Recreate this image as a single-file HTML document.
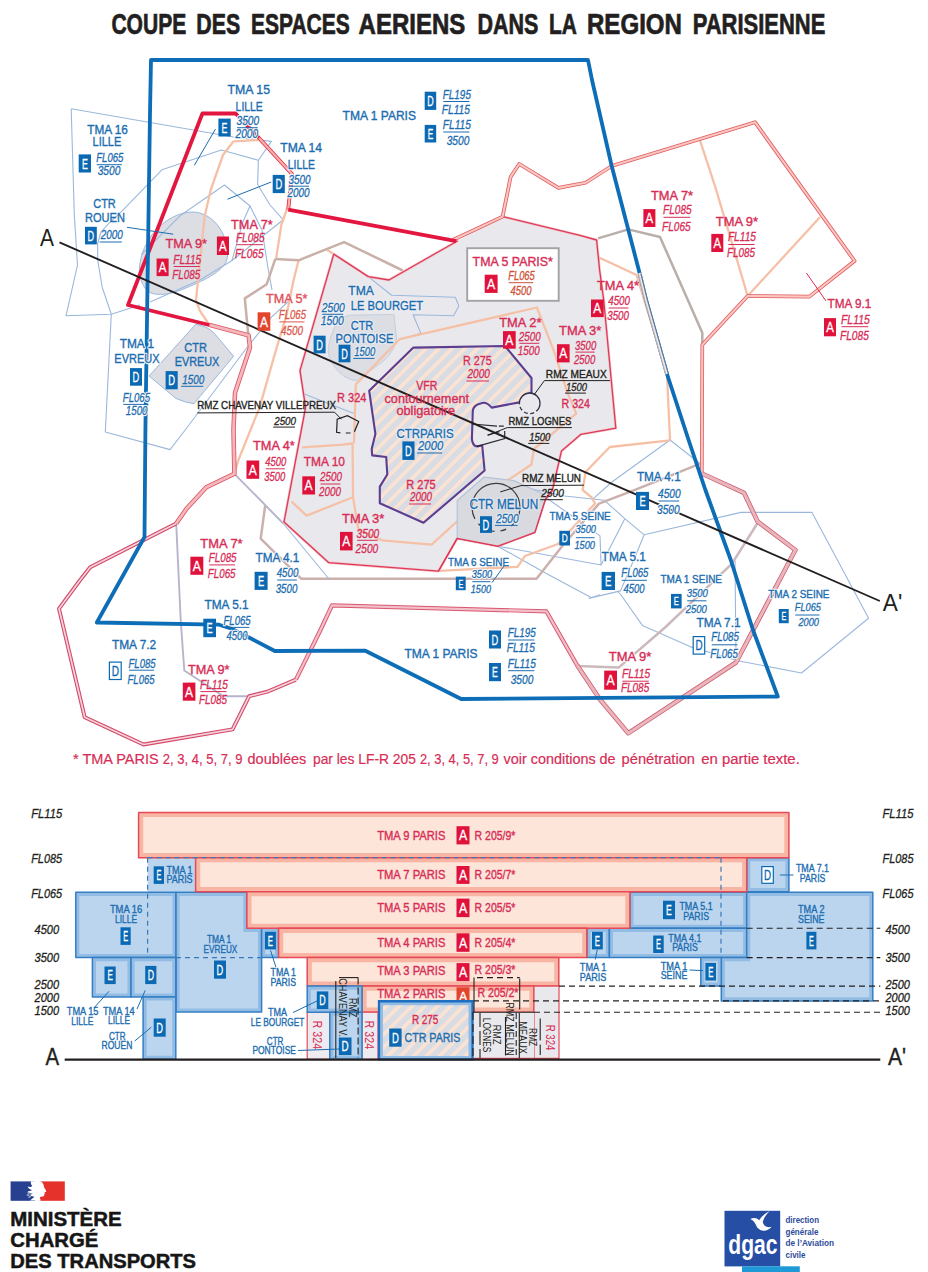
<!DOCTYPE html>
<html lang="fr"><head><meta charset="utf-8"><title>Coupe des espaces aeriens dans la region parisienne</title>
<style>
html,body{margin:0;padding:0;background:#fff}
body{width:928px;height:1272px;overflow:hidden}
svg{display:block}
svg text{font-family:"Liberation Sans",sans-serif;white-space:pre}
</style></head><body>
<svg width="928" height="1272" viewBox="0 0 928 1272">
<defs>
<pattern id="hatch" width="9.1" height="9.1" patternUnits="userSpaceOnUse" patternTransform="rotate(-45)">
<rect width="9.1" height="9.1" fill="#d9dce2"/><rect y="0" width="9.1" height="3.6" fill="#fbe3d4"/>
</pattern>
</defs>
<text y="33.7" fill="#231f20" stroke="#231f20" stroke-width="0.7" style="font-size:28.8px;font-weight:bold;"><tspan x="111.4" textLength="74.9" lengthAdjust="spacingAndGlyphs">COUPE</tspan> <tspan x="196.3" textLength="43.9" lengthAdjust="spacingAndGlyphs">DES</tspan> <tspan x="250.9" textLength="98.9" lengthAdjust="spacingAndGlyphs">ESPACES</tspan> <tspan x="358.6" textLength="106.8" lengthAdjust="spacingAndGlyphs">AERIENS</tspan> <tspan x="477.4" textLength="61" lengthAdjust="spacingAndGlyphs">DANS</tspan> <tspan x="549.1" textLength="27.1" lengthAdjust="spacingAndGlyphs">LA</tspan> <tspan x="587" textLength="94.9" lengthAdjust="spacingAndGlyphs">REGION</tspan> <tspan x="692.7" textLength="132.7" lengthAdjust="spacingAndGlyphs">PARISIENNE</tspan></text>
<polygon points="333.8,254.1 368.3,276.6 389,280 432.8,255 457.9,240.8 502.6,216.6 580,235.4 596.6,240 599.6,270 603.7,300 615.8,428.2 581,434.3 561.5,450.9 552.4,490 545.2,499.7 534.8,532.4 497.8,546.2 457.2,538.4 438.4,571.2 328.6,562.6 284,522 305.6,407.4 300,370.6" fill="#e9e9ed" stroke="none" stroke-width="0" stroke-linejoin="round" />
<path d="M139.5,268 C141,240 165,213 192,212 C212,212 228,232 227.5,256 C227,270 205,280 186,288 C168,296 150,297 145,288 C141,282 139,276 139.5,268Z" fill="#dcdee3" stroke="#9bb8dc" stroke-width="1"/>
<path d="M149.1,376 L195.7,324.3 Q207,326 214,333 L233.6,356.2 L194,403.6 Q186,403 175.9,398.4 Z" fill="#dcdee3" stroke="#9bb8dc" stroke-width="1"/>
<path d="M333.6,329.5 Q338,317 350,315.2 L394,314.5 L396.6,339.8 Q392,357 375.9,366.6 Q366,374 356,381 Q342,378 334.5,366.6 Q327,356 328.4,347.6 Q329.5,338 333.6,329.5 Z" fill="#dcdee3" stroke="#c3cede" stroke-width="1"/>
<path d="M413.4,347.6 L505,346 L531.5,378 L531.5,393 L526,394.5 L519.3,402.4 L491.7,407.6 Q486,401.3 481.4,403.3 Q473.3,405 472.8,411 L471.9,438.6 Q472.3,445.8 477,446.4 L482.2,445.5 L484.6,470.5 L423.5,522.8 L379.8,503.2 L379.8,486.6 L387.3,474.5 L386.2,457 L372.2,455.4 L371.7,449 L375.4,433.9 L369.2,390.8 Z" fill="url(#hatch)"/>
<polyline points="71.2,108.7 233.4,137 271.4,141.4 258.4,160.3 257.6,184.5 270,205 283.3,219.8 232,260.5" fill="none" stroke="#9bb8dc" stroke-width="1.1" stroke-linejoin="round" />
<polyline points="71.2,108.7 74.3,215 77.5,265 66,315.8 111.3,314.3 140,305" fill="none" stroke="#9bb8dc" stroke-width="1.1" stroke-linejoin="round" />
<polyline points="111.3,314.3 102.2,287.2 97.7,260 97.6,243.5 101,232 109.3,222.8 121.7,211.4 161.9,169.8 221.4,150 258.4,160.3" fill="none" stroke="#9bb8dc" stroke-width="1.1" stroke-linejoin="round" />
<polyline points="141.5,254.5 180.7,215.2 224.5,185 250,206 242.6,222.8 232,260.5 200,280 150,302" fill="none" stroke="#9bb8dc" stroke-width="1.1" stroke-linejoin="round" />
<polyline points="250,206 262,230 268,268 272,290" fill="none" stroke="#9bb8dc" stroke-width="1.1" stroke-linejoin="round" />
<polyline points="111.3,314.3 105.3,432 170.1,449.6 185.2,430 247,347.5 271.2,317.3 290,300" fill="none" stroke="#9bb8dc" stroke-width="1.1" stroke-linejoin="round" />
<polyline points="368.3,276.6 391.6,295.2 455.3,297.2 458.8,305.9 453.6,315.7 413.1,314.7 420.9,333.4 400,339.5" fill="none" stroke="#9bb8dc" stroke-width="1.1" stroke-linejoin="round" />
<polyline points="304.3,394 353.9,413.4" fill="none" stroke="#9bb8dc" stroke-width="1.1" stroke-linejoin="round" />
<polyline points="670,440 700.3,463.7" fill="none" stroke="#9bb8dc" stroke-width="1.1" stroke-linejoin="round" />
<polyline points="670,440 611.9,482 592.5,499.3" fill="none" stroke="#9bb8dc" stroke-width="1.1" stroke-linejoin="round" />
<polyline points="514.1,480.7 530,488.5 564.5,496 604.4,500.3 624.8,518.7 644.2,534.8 741,512.4 812,512.4 868.6,618.3 801.5,673 737.9,660.7 690,646.6 642.4,625.4 621,595 617.3,590.9" fill="none" stroke="#9bb8dc" stroke-width="1.1" stroke-linejoin="round" />
<polyline points="644.2,534.8 633.4,560.7 620.5,590.9 588.7,598.4" fill="none" stroke="#9bb8dc" stroke-width="1.1" stroke-linejoin="round" />
<polyline points="624.8,518.7 601.1,565 530,552 497.8,546.2" fill="none" stroke="#9bb8dc" stroke-width="1.1" stroke-linejoin="round" />
<polyline points="735,560.7 736,660" fill="none" stroke="#9bb8dc" stroke-width="1.1" stroke-linejoin="round" />
<polyline points="497.8,546.2 546.3,573.6 591.6,597.7 600,594.7" fill="none" stroke="#9bb8dc" stroke-width="1.1" stroke-linejoin="round" />
<polyline points="545.2,497 600,535.9 601.1,565" fill="none" stroke="#9bb8dc" stroke-width="1.1" stroke-linejoin="round" />
<polyline points="233.5,141.3 260.7,139.8" fill="none" stroke="#f6c0a7" stroke-width="2.3" stroke-linejoin="round" />
<polyline points="233.5,141.3 223,155 210.7,190 204.7,215.9 201.2,250.3 196,300 200,311 209.4,325" fill="none" stroke="#f6c0a7" stroke-width="2.3" stroke-linejoin="round" />
<polyline points="287,209 281.4,224.5 276.2,258.1" fill="none" stroke="#f6c0a7" stroke-width="2.3" stroke-linejoin="round" />
<polyline points="298.6,260.3 293.6,280 286.5,315.4 276.6,347.9 259.6,407.4 238.4,460 234.4,473.8" fill="none" stroke="#f6c0a7" stroke-width="2.3" stroke-linejoin="round" />
<polyline points="326.9,249.8 333.8,254.1" fill="none" stroke="#f6c0a7" stroke-width="2.3" stroke-linejoin="round" />
<polyline points="700,140.4 715.8,188.6 740,270 747.6,296" fill="none" stroke="#f6c0a7" stroke-width="2.3" stroke-linejoin="round" />
<polyline points="819.9,217.3 747.6,296" fill="none" stroke="#f6c0a7" stroke-width="2.3" stroke-linejoin="round" />
<polyline points="354,443 355.8,384.5 399.6,339.2 536.9,307.5 553.5,349.8 567.6,392.9 576.2,413.6 534,449 531.4,464.5 505.5,481.7 457.5,521" fill="none" stroke="#f6c0a7" stroke-width="2.3" stroke-linejoin="round" />
<polyline points="302,447.3 340,444.9 352.6,443.5 353,497 358.4,529.6 382,540.3 431.6,544.7 457.5,521" fill="none" stroke="#f6c0a7" stroke-width="2.3" stroke-linejoin="round" />
<polyline points="291.6,501.6 306.6,515.6 353,497.2" fill="none" stroke="#f6c0a7" stroke-width="2.3" stroke-linejoin="round" />
<polyline points="599,257.5 636.5,275 667,374 670,440.3" fill="none" stroke="#f6c0a7" stroke-width="2.3" stroke-linejoin="round" />
<polyline points="670,440.3 609.8,447 585.6,472 582.6,490 591.7,497.3 595,503.5 558,544 525,556 517.5,566.9 438.8,570.8" fill="none" stroke="#f6c0a7" stroke-width="2.3" stroke-linejoin="round" />
<polyline points="598,238.4 628.3,229.4 660,237 702.3,332.8 702.3,344.8" fill="none" stroke="#b9aeaa" stroke-width="2.5" stroke-linejoin="round" />
<polyline points="700.3,463.7 635.6,489.6 599,503.6 562.3,546 536.5,578.8 301.4,578.8 260.7,538.6 265.2,505.4" fill="none" stroke="#cbb0ae" stroke-width="2.5" stroke-linejoin="round" />
<polyline points="757.6,523 732,563.7 665.6,627 618.6,667.6 577.2,665.9" fill="none" stroke="#ccb9bc" stroke-width="2.5" stroke-linejoin="round" />
<polyline points="275.3,259 298.6,260.3 344.1,242.1 402.8,270.5" fill="none" stroke="#c9b0a8" stroke-width="2.5" stroke-linejoin="round" />
<polyline points="275.3,259 266.7,284.2 244.8,298.4 248.3,335" fill="none" stroke="#c9b0a8" stroke-width="2.5" stroke-linejoin="round" />
<polyline points="283.3,523.5 328.6,578.5" fill="none" stroke="#9bb8dc" stroke-width="1.1" stroke-linejoin="round" />
<polyline points="176.2,523.5 180.7,620 184.3,670.5 223.5,696.2 249.2,696.2" fill="none" stroke="#b8b4cd" stroke-width="1.9" stroke-linejoin="round" />
<polyline points="234.4,473.8 283.3,523.5" fill="none" stroke="#b8b4cd" stroke-width="1.9" stroke-linejoin="round" />
<polyline points="502.6,216.6 580,235.4 596.6,240 599.6,270 603.7,300 615.8,428.2 581,434.3 561.5,450.9 552.4,490 545.2,499.7 534.8,532.4 497.8,546.2 457.2,538.4 438.4,571.2 328.6,562.6 284,522 305.6,407.4 300,370.6 333.8,254.1 368.3,276.6 389,280 432.8,255 457.9,240.8" fill="none" stroke="#f4c3ca" stroke-width="2.6" stroke-linejoin="round" />
<polyline points="502.6,216.6 580,235.4 596.6,240 599.6,270 603.7,300 615.8,428.2 581,434.3 561.5,450.9 552.4,490 545.2,499.7 534.8,532.4 497.8,546.2 457.2,538.4 438.4,571.2 328.6,562.6 284,522 305.6,407.4 300,370.6 333.8,254.1 368.3,276.6 389,280 432.8,255 457.9,240.8" fill="none" stroke="#dd3a58" stroke-width="1.3" stroke-linejoin="round" />
<polygon points="484,477.2 514.1,480.7 545.2,495 545.2,499.7 534.8,532.4 497.8,546.2 457.2,538.4 457.2,500.5" fill="#d8dadf" stroke="none" stroke-width="0" stroke-linejoin="round" />
<polyline points="457.2,538.4 457.2,500.5 484,477.2 514.1,480.7 545.2,495" fill="none" stroke="#b4c3da" stroke-width="1.2" stroke-linejoin="round" />
<polyline points="552.4,490 545.2,499.7 534.8,532.4 497.8,546.2 457.2,538.4 438.4,571.2" fill="none" stroke="#dd3a58" stroke-width="1.3" stroke-linejoin="round" />
<polyline points="452.8,240 502.6,216.6 510.7,176.7 519.2,164 558.4,187.9 585.5,182.8 611.7,166 755,122.2 854.6,261 809.4,296.6 747.6,296 702.3,344.8 701.8,473.5" fill="none" stroke="#e05a63" stroke-width="3.7" stroke-linejoin="round" />
<polyline points="452.8,240 502.6,216.6 510.7,176.7 519.2,164 558.4,187.9 585.5,182.8 611.7,166 755,122.2 854.6,261 809.4,296.6 747.6,296 702.3,344.8 701.8,473.5" fill="none" stroke="#fac6bd" stroke-width="2.1" stroke-linejoin="round" />
<polyline points="701.8,473.5 744,492.8 757.6,521.5 795.4,550 736,662.5 628.3,733.2 600,699.6 577,665" fill="none" stroke="#cf5a70" stroke-width="4.6" stroke-linejoin="round" />
<polyline points="701.8,473.5 744,492.8 757.6,521.5 795.4,550 736,662.5 628.3,733.2 600,699.6 577,665" fill="none" stroke="#e8b6bb" stroke-width="3.1" stroke-linejoin="round" />
<polyline points="577,665 546.3,611.3 332,605.3 320,631 295.9,679.6" fill="none" stroke="#d9566f" stroke-width="4.2" stroke-linejoin="round" />
<polyline points="577,665 546.3,611.3 332,605.3 320,631 295.9,679.6" fill="none" stroke="#f2bfc8" stroke-width="2.3" stroke-linejoin="round" />
<polyline points="295.9,679.6 267.3,691.7 249.2,696.2 232.6,729.4 143.5,744.5 84.7,717.3 59,608.7 80.2,580 90.2,567.3 176.2,523.5" fill="none" stroke="#d4496a" stroke-width="3.9" stroke-linejoin="round" />
<polyline points="295.9,679.6 267.3,691.7 249.2,696.2 232.6,729.4 143.5,744.5 84.7,717.3 59,608.7 80.2,580 90.2,567.3 176.2,523.5" fill="none" stroke="#f5d3da" stroke-width="1.7" stroke-linejoin="round" />
<polyline points="176.2,523.5 186.7,508.5 206.3,487.3 234.4,473.8 233.5,430 235,392.8 250,347.5 248.6,335.4 209.4,324.9" fill="none" stroke="#db5568" stroke-width="4.5" stroke-linejoin="round" />
<polyline points="176.2,523.5 186.7,508.5 206.3,487.3 234.4,473.8 233.5,430 235,392.8 250,347.5 248.6,335.4 209.4,324.9" fill="none" stroke="#f4b8ba" stroke-width="2.8" stroke-linejoin="round" />
<polyline points="259,138 292,174 288.2,209.6" fill="none" stroke="#e2304f" stroke-width="3.9" stroke-linejoin="round" />
<polyline points="259,138 292,174 288.2,209.6" fill="none" stroke="#f8b0a8" stroke-width="2.2" stroke-linejoin="round" />
<polyline points="259,138 235.6,113.5 202.4,113.5 128,305 209.4,325" fill="none" stroke="#e2163f" stroke-width="3.8" stroke-linejoin="round" stroke-linejoin="miter"/>
<polyline points="288.2,209.6 456.2,241.2" fill="none" stroke="#e2163f" stroke-width="3.8" stroke-linejoin="round" />
<polygon points="151,60 588,60 592,80 611.7,166 638.8,270 646,300 667,374 688.6,440 705.4,490 730.8,560 753,630 777.8,696.5 461.2,699 365.3,650.7 274.8,651 249,637.5 231,628.5 219,624.7 96.8,622.5 144.5,537 145.4,430 150,113" fill="none" stroke="#0d6db6" stroke-width="3.8" stroke-linejoin="round" stroke-linejoin="miter"/>
<polyline points="639.5,273 646,300 667,374" fill="none" stroke="#b9b4b8" stroke-width="3.8" stroke-linejoin="round" />
<polyline points="639.5,273 646,300 667,374" fill="none" stroke="#f3ebe6" stroke-width="1.3" stroke-linejoin="round" />
<polyline points="641,274 647.5,300 668.5,374" fill="none" stroke="#3b6ea5" stroke-width="0.9" stroke-linejoin="round" />
<path d="M413.4,347.6 L505,346 L531.5,378 L531.5,393 L526,394.5 L519.3,402.4 L491.7,407.6 Q486,401.3 481.4,403.3 Q473.3,405 472.8,411 L471.9,438.6 Q472.3,445.8 477,446.4 L482.2,445.5 L484.6,470.5 L423.5,522.8 L379.8,503.2 L379.8,486.6 L387.3,474.5 L386.2,457 L372.2,455.4 L371.7,449 L375.4,433.9 L369.2,390.8 Z" fill="none" stroke="#5c3d8e" stroke-width="2.1" stroke-linejoin="round"/>
<circle cx="529.7" cy="403.3" r="10.3" fill="#e9e9ed" stroke="#2e3148" stroke-width="1.3" stroke-dasharray="9 2.5 4 2.5 4 2.5 4 2.5 60"/>
<circle cx="496" cy="507.4" r="24" fill="none" stroke="#3d3d45" stroke-width="1.2" stroke-dasharray="0 3 6 6 6 6 6 6 6 6 6 6 93.8"/>
<path d="M340.4,432.8 L336.6,432.3 L337.2,419.3 L347.4,415.6 L358.7,421.5 L354.4,431.7 M345.8,433 L350.6,433" fill="none" stroke="#231f20" stroke-width="1.2"/>
<path d="M472,424 L497,426.2 M498.8,426.2 L503.8,426.2 M504.7,431 L504.7,438.6 L477,446.4 M487.4,435.2 L499.5,431.7" fill="none" stroke="#2a2a35" stroke-width="1.2"/>
<line x1="59.5" y1="242.4" x2="879.8" y2="601" stroke="#231f20" stroke-width="1.9"/>
<text x="40" y="245.8" textLength="14" lengthAdjust="spacingAndGlyphs" style="font-size:24px;" fill="#231f20">A</text>
<text x="882.8" y="611.4" textLength="19.4" lengthAdjust="spacingAndGlyphs" style="font-size:24px;" fill="#231f20">A'</text>
<line x1="215.4" y1="129.2" x2="194.3" y2="165.4" stroke="#1c6db0" stroke-width="1"/>
<line x1="271.2" y1="182" x2="227.5" y2="199.2" stroke="#1c6db0" stroke-width="1"/>
<line x1="127" y1="227.3" x2="173.2" y2="234.2" stroke="#1c6db0" stroke-width="1"/>
<line x1="504" y1="566" x2="492" y2="582.6" stroke="#1c6db0" stroke-width="1"/>
<line x1="806.4" y1="273" x2="826" y2="301" stroke="#d72d56" stroke-width="1"/>
<polyline points="533.9,395 544.4,380.6 610,380.6" fill="none" stroke="#231f20" stroke-width="1" stroke-linejoin="round" />
<polyline points="197.3,412.9 334.5,412.2 341.5,419.3" fill="none" stroke="#231f20" stroke-width="1" stroke-linejoin="round" />
<polyline points="488.3,435.2 507.2,427.6 571.9,427.6" fill="none" stroke="#231f20" stroke-width="1" stroke-linejoin="round" />
<polyline points="500.3,491.9 521,485.6 584,485.2" fill="none" stroke="#231f20" stroke-width="1" stroke-linejoin="round" />
<rect x="467.2" y="248.2" width="91.5" height="52.6" fill="#fff" stroke="#a3a3a7" stroke-width="1.9"/>
<text x="227.5" y="94" textLength="42.5" lengthAdjust="spacingAndGlyphs" style="font-size:13.5px;" fill="#1c6db0" stroke="#1c6db0" stroke-width="0.38">TMA 15</text>
<text x="235.6" y="110.5" textLength="27.2" lengthAdjust="spacingAndGlyphs" style="font-size:13.5px;" fill="#1c6db0" stroke="#1c6db0" stroke-width="0.38">LILLE</text>
<rect x="218.4" y="118.6" width="12.3" height="17.9" fill="#0b69b3"/>
<text x="221.6" y="132.6" textLength="5.9" lengthAdjust="spacingAndGlyphs" fill="#fff" stroke="#fff" stroke-width=".3" style="font-size:14px">E</text>
<text x="236.5" y="124.7" textLength="22.7" lengthAdjust="spacingAndGlyphs" style="font-size:12.5px;font-style:italic;" fill="#fff" stroke="#fff" stroke-width="2.4" stroke-linejoin="round">3500</text>
<text x="236.5" y="124.7" textLength="22.7" lengthAdjust="spacingAndGlyphs" style="font-size:12.5px;font-style:italic;" fill="#1c6db0" stroke="#1c6db0" stroke-width="0.3">3500</text>
<text x="235.5" y="138.3" textLength="22.7" lengthAdjust="spacingAndGlyphs" style="font-size:12.5px;font-style:italic;" fill="#fff" stroke="#fff" stroke-width="2.4" stroke-linejoin="round">2000</text>
<text x="235.5" y="138.3" textLength="22.7" lengthAdjust="spacingAndGlyphs" style="font-size:12.5px;font-style:italic;" fill="#1c6db0" stroke="#1c6db0" stroke-width="0.3">2000</text>
<line x1="237" y1="127.7" x2="257.7" y2="127.7" stroke="#1c6db0" stroke-width="1"/>
<text x="87.2" y="133.8" textLength="40.7" lengthAdjust="spacingAndGlyphs" style="font-size:13.5px;" fill="#1c6db0" stroke="#1c6db0" stroke-width="0.38">TMA 16</text>
<text x="92.6" y="146.4" textLength="28.7" lengthAdjust="spacingAndGlyphs" style="font-size:13.5px;" fill="#1c6db0" stroke="#1c6db0" stroke-width="0.38">LILLE</text>
<rect x="78.7" y="154.4" width="12.3" height="18.1" fill="#0b69b3"/>
<text x="81.9" y="168.5" textLength="5.9" lengthAdjust="spacingAndGlyphs" fill="#fff" stroke="#fff" stroke-width=".3" style="font-size:14px">E</text>
<text x="96.2" y="162.4" textLength="27.2" lengthAdjust="spacingAndGlyphs" style="font-size:12.5px;font-style:italic;" fill="#1c6db0" stroke="#1c6db0" stroke-width="0.3">FL065</text>
<text x="97.7" y="175.4" textLength="22.7" lengthAdjust="spacingAndGlyphs" style="font-size:12.5px;font-style:italic;" fill="#1c6db0" stroke="#1c6db0" stroke-width="0.3">3500</text>
<line x1="96.7" y1="164.7" x2="121.9" y2="164.7" stroke="#1c6db0" stroke-width="1"/>
<text x="280.3" y="151.9" textLength="41.7" lengthAdjust="spacingAndGlyphs" style="font-size:13.5px;" fill="#1c6db0" stroke="#1c6db0" stroke-width="0.38">TMA 14</text>
<text x="287.8" y="168.5" textLength="27.2" lengthAdjust="spacingAndGlyphs" style="font-size:13.5px;" fill="#fff" stroke="#fff" stroke-width="2.4" stroke-linejoin="round">LILLE</text>
<text x="287.8" y="168.5" textLength="27.2" lengthAdjust="spacingAndGlyphs" style="font-size:13.5px;" fill="#1c6db0" stroke="#1c6db0" stroke-width="0.38">LILLE</text>
<rect x="272.7" y="174.9" width="12.1" height="18.2" fill="#0b69b3"/>
<text x="275.4" y="189" textLength="6.8" lengthAdjust="spacingAndGlyphs" fill="#fff" stroke="#fff" stroke-width=".3" style="font-size:14px">D</text>
<text x="288.4" y="183.5" textLength="22.1" lengthAdjust="spacingAndGlyphs" style="font-size:12.5px;font-style:italic;" fill="#fff" stroke="#fff" stroke-width="2.4" stroke-linejoin="round">3500</text>
<text x="288.4" y="183.5" textLength="22.1" lengthAdjust="spacingAndGlyphs" style="font-size:12.5px;font-style:italic;" fill="#1c6db0" stroke="#1c6db0" stroke-width="0.3">3500</text>
<text x="287.4" y="197.1" textLength="22.1" lengthAdjust="spacingAndGlyphs" style="font-size:12.5px;font-style:italic;" fill="#fff" stroke="#fff" stroke-width="2.4" stroke-linejoin="round">2000</text>
<text x="287.4" y="197.1" textLength="22.1" lengthAdjust="spacingAndGlyphs" style="font-size:12.5px;font-style:italic;" fill="#1c6db0" stroke="#1c6db0" stroke-width="0.3">2000</text>
<line x1="288.9" y1="186.2" x2="309" y2="186.2" stroke="#1c6db0" stroke-width="1"/>
<text x="93.2" y="208.3" textLength="22.6" lengthAdjust="spacingAndGlyphs" style="font-size:13.5px;" fill="#1c6db0" stroke="#1c6db0" stroke-width="0.38">CTR</text>
<text x="85" y="222.2" textLength="39.9" lengthAdjust="spacingAndGlyphs" style="font-size:13.5px;" fill="#1c6db0" stroke="#1c6db0" stroke-width="0.38">ROUEN</text>
<rect x="85" y="226.8" width="11.8" height="17.6" fill="#0b69b3"/>
<text x="87.6" y="240.6" textLength="6.6" lengthAdjust="spacingAndGlyphs" fill="#fff" stroke="#fff" stroke-width=".3" style="font-size:14px">D</text>
<text x="100.7" y="239.4" textLength="22.1" lengthAdjust="spacingAndGlyphs" style="font-size:12.5px;font-style:italic;" fill="#1c6db0" stroke="#1c6db0" stroke-width="0.3">2000</text>
<line x1="99.7" y1="242" x2="121.8" y2="242" stroke="#1c6db0" stroke-width="1"/>
<text x="342.6" y="120" textLength="73.4" lengthAdjust="spacingAndGlyphs" style="font-size:13.5px;" fill="#1c6db0" stroke="#1c6db0" stroke-width="0.38">TMA 1 PARIS</text>
<rect x="424.7" y="91.7" width="11.5" height="18.2" fill="#0b69b3"/>
<text x="427.2" y="105.8" textLength="6.4" lengthAdjust="spacingAndGlyphs" fill="#fff" stroke="#fff" stroke-width=".3" style="font-size:14px">D</text>
<text x="442.8" y="99.2" textLength="28.1" lengthAdjust="spacingAndGlyphs" style="font-size:12.5px;font-style:italic;" fill="#1c6db0" stroke="#1c6db0" stroke-width="0.3">FL195</text>
<text x="441.8" y="114.3" textLength="28.1" lengthAdjust="spacingAndGlyphs" style="font-size:12.5px;font-style:italic;" fill="#1c6db0" stroke="#1c6db0" stroke-width="0.3">FL115</text>
<line x1="443.3" y1="101.5" x2="469.4" y2="101.5" stroke="#1c6db0" stroke-width="1"/>
<rect x="424.7" y="124.9" width="11.5" height="17.6" fill="#0b69b3"/>
<text x="427.7" y="138.7" textLength="5.5" lengthAdjust="spacingAndGlyphs" fill="#fff" stroke="#fff" stroke-width=".3" style="font-size:14px">E</text>
<text x="442.8" y="129" textLength="28.1" lengthAdjust="spacingAndGlyphs" style="font-size:12.5px;font-style:italic;" fill="#1c6db0" stroke="#1c6db0" stroke-width="0.3">FL115</text>
<text x="446.7" y="145" textLength="22.7" lengthAdjust="spacingAndGlyphs" style="font-size:12.5px;font-style:italic;" fill="#1c6db0" stroke="#1c6db0" stroke-width="0.3">3500</text>
<line x1="443.3" y1="132" x2="469.4" y2="132" stroke="#1c6db0" stroke-width="1"/>
<text x="231.1" y="228.8" textLength="41.6" lengthAdjust="spacingAndGlyphs" style="font-size:13.5px;" fill="#d72d56" stroke="#d72d56" stroke-width="0.38">TMA 7*</text>
<rect x="216.9" y="236.5" width="12.1" height="18.5" fill="#e0123b"/>
<text x="219.1" y="250.8" textLength="7.6" lengthAdjust="spacingAndGlyphs" fill="#fff" stroke="#fff" stroke-width=".3" style="font-size:14px">A</text>
<text x="235.9" y="241.8" textLength="28.7" lengthAdjust="spacingAndGlyphs" style="font-size:12.5px;font-style:italic;" fill="#d72d56" stroke="#d72d56" stroke-width="0.3">FL085</text>
<text x="234.9" y="257.5" textLength="28.7" lengthAdjust="spacingAndGlyphs" style="font-size:12.5px;font-style:italic;" fill="#d72d56" stroke="#d72d56" stroke-width="0.3">FL065</text>
<line x1="236.4" y1="244.7" x2="263.1" y2="244.7" stroke="#d72d56" stroke-width="1"/>
<text x="165.6" y="248.4" textLength="41.4" lengthAdjust="spacingAndGlyphs" style="font-size:13.5px;" fill="#d72d56" stroke="#d72d56" stroke-width="0.38">TMA 9*</text>
<rect x="156.6" y="258.5" width="12" height="17.6" fill="#e0123b"/>
<text x="158.8" y="272.3" textLength="7.6" lengthAdjust="spacingAndGlyphs" fill="#fff" stroke="#fff" stroke-width=".3" style="font-size:14px">A</text>
<text x="173.2" y="263.5" textLength="28" lengthAdjust="spacingAndGlyphs" style="font-size:12.5px;font-style:italic;" fill="#d72d56" stroke="#d72d56" stroke-width="0.3">FL115</text>
<text x="172.2" y="278.6" textLength="28" lengthAdjust="spacingAndGlyphs" style="font-size:12.5px;font-style:italic;" fill="#d72d56" stroke="#d72d56" stroke-width="0.3">FL085</text>
<line x1="173.7" y1="266.5" x2="199.7" y2="266.5" stroke="#d72d56" stroke-width="1"/>
<text x="651" y="199.8" textLength="42" lengthAdjust="spacingAndGlyphs" style="font-size:13.5px;" fill="#d72d56" stroke="#d72d56" stroke-width="0.38">TMA 7*</text>
<rect x="643.4" y="209.1" width="12" height="17.9" fill="#e0123b"/>
<text x="645.6" y="223.1" textLength="7.6" lengthAdjust="spacingAndGlyphs" fill="#fff" stroke="#fff" stroke-width=".3" style="font-size:14px">A</text>
<text x="663" y="214.3" textLength="28.6" lengthAdjust="spacingAndGlyphs" style="font-size:12.5px;font-style:italic;" fill="#d72d56" stroke="#d72d56" stroke-width="0.3">FL085</text>
<text x="662" y="230.9" textLength="28.6" lengthAdjust="spacingAndGlyphs" style="font-size:12.5px;font-style:italic;" fill="#d72d56" stroke="#d72d56" stroke-width="0.3">FL065</text>
<line x1="663.5" y1="217.3" x2="690.1" y2="217.3" stroke="#d72d56" stroke-width="1"/>
<text x="715.8" y="225.7" textLength="42.2" lengthAdjust="spacingAndGlyphs" style="font-size:13.5px;" fill="#d72d56" stroke="#d72d56" stroke-width="0.38">TMA 9*</text>
<rect x="711.3" y="233.9" width="12" height="18.1" fill="#e0123b"/>
<text x="713.5" y="248" textLength="7.6" lengthAdjust="spacingAndGlyphs" fill="#fff" stroke="#fff" stroke-width=".3" style="font-size:14px">A</text>
<text x="727.9" y="241.4" textLength="28.1" lengthAdjust="spacingAndGlyphs" style="font-size:12.5px;font-style:italic;" fill="#d72d56" stroke="#d72d56" stroke-width="0.3">FL115</text>
<text x="726.9" y="256.5" textLength="28.1" lengthAdjust="spacingAndGlyphs" style="font-size:12.5px;font-style:italic;" fill="#d72d56" stroke="#d72d56" stroke-width="0.3">FL085</text>
<line x1="728.4" y1="244.5" x2="754.5" y2="244.5" stroke="#d72d56" stroke-width="1"/>
<text x="827.5" y="307.7" textLength="43.8" lengthAdjust="spacingAndGlyphs" style="font-size:13.5px;" fill="#d72d56" stroke="#d72d56" stroke-width="0.38">TMA 9.1</text>
<rect x="824" y="318.1" width="12" height="18.2" fill="#e0123b"/>
<text x="826.2" y="332.2" textLength="7.6" lengthAdjust="spacingAndGlyphs" fill="#fff" stroke="#fff" stroke-width=".3" style="font-size:14px">A</text>
<text x="841" y="323.7" textLength="28.8" lengthAdjust="spacingAndGlyphs" style="font-size:12.5px;font-style:italic;" fill="#d72d56" stroke="#d72d56" stroke-width="0.3">FL115</text>
<text x="840" y="340.3" textLength="28.8" lengthAdjust="spacingAndGlyphs" style="font-size:12.5px;font-style:italic;" fill="#d72d56" stroke="#d72d56" stroke-width="0.3">FL085</text>
<line x1="841.5" y1="326.7" x2="868.3" y2="326.7" stroke="#d72d56" stroke-width="1"/>
<text x="472.6" y="265.9" textLength="80.3" lengthAdjust="spacingAndGlyphs" style="font-size:13.5px;" fill="#d72d56" stroke="#d72d56" stroke-width="0.38">TMA 5 PARIS*</text>
<rect x="484.7" y="274.7" width="12.9" height="18.2" fill="#e0123b"/>
<text x="487.1" y="288.8" textLength="8.2" lengthAdjust="spacingAndGlyphs" fill="#fff" stroke="#fff" stroke-width=".3" style="font-size:14px">A</text>
<text x="508.2" y="280.4" textLength="26.6" lengthAdjust="spacingAndGlyphs" style="font-size:12.5px;font-style:italic;" fill="#cf5238" stroke="#cf5238" stroke-width="0.3">FL065</text>
<text x="510.5" y="295.4" textLength="21" lengthAdjust="spacingAndGlyphs" style="font-size:12.5px;font-style:italic;" fill="#cf5238" stroke="#cf5238" stroke-width="0.3">4500</text>
<line x1="508.7" y1="282.7" x2="533.3" y2="282.7" stroke="#cf5238" stroke-width="1"/>
<text x="266" y="303.2" textLength="41.4" lengthAdjust="spacingAndGlyphs" style="font-size:13.5px;" fill="#e0525c" stroke="#e0525c" stroke-width="0.38">TMA 5*</text>
<rect x="257.6" y="312.3" width="12.7" height="18.5" fill="#e2452c"/>
<text x="259.9" y="326.6" textLength="8" lengthAdjust="spacingAndGlyphs" fill="#fff" stroke="#fff" stroke-width=".3" style="font-size:14px">A</text>
<text x="278.8" y="318.8" textLength="27.2" lengthAdjust="spacingAndGlyphs" style="font-size:12.5px;font-style:italic;" fill="#dc5a4c" stroke="#dc5a4c" stroke-width="0.3">FL065</text>
<text x="280.9" y="335.4" textLength="22.1" lengthAdjust="spacingAndGlyphs" style="font-size:12.5px;font-style:italic;" fill="#dc5a4c" stroke="#dc5a4c" stroke-width="0.3">4500</text>
<line x1="279.3" y1="321.9" x2="304.5" y2="321.9" stroke="#dc5a4c" stroke-width="1"/>
<text x="348.3" y="294.6" textLength="25.6" lengthAdjust="spacingAndGlyphs" style="font-size:13.5px;" fill="#f2f2f5" stroke="#f2f2f5" stroke-width="2.4" stroke-linejoin="round">TMA</text>
<text x="348.3" y="294.6" textLength="25.6" lengthAdjust="spacingAndGlyphs" style="font-size:13.5px;" fill="#1c6db0" stroke="#1c6db0" stroke-width="0.38">TMA</text>
<text x="350.7" y="310.4" textLength="72.4" lengthAdjust="spacingAndGlyphs" style="font-size:13.5px;" fill="#f2f2f5" stroke="#f2f2f5" stroke-width="2.4" stroke-linejoin="round">LE BOURGET</text>
<text x="350.7" y="310.4" textLength="72.4" lengthAdjust="spacingAndGlyphs" style="font-size:13.5px;" fill="#1c6db0" stroke="#1c6db0" stroke-width="0.38">LE BOURGET</text>
<text x="321.7" y="311.6" textLength="23" lengthAdjust="spacingAndGlyphs" style="font-size:12.5px;font-style:italic;" fill="#f2f2f5" stroke="#f2f2f5" stroke-width="2.4" stroke-linejoin="round">2500</text>
<text x="321.7" y="311.6" textLength="23" lengthAdjust="spacingAndGlyphs" style="font-size:12.5px;font-style:italic;" fill="#1c6db0" stroke="#1c6db0" stroke-width="0.3">2500</text>
<text x="320.7" y="325.4" textLength="23" lengthAdjust="spacingAndGlyphs" style="font-size:12.5px;font-style:italic;" fill="#f2f2f5" stroke="#f2f2f5" stroke-width="2.4" stroke-linejoin="round">1500</text>
<text x="320.7" y="325.4" textLength="23" lengthAdjust="spacingAndGlyphs" style="font-size:12.5px;font-style:italic;" fill="#1c6db0" stroke="#1c6db0" stroke-width="0.3">1500</text>
<line x1="322.2" y1="314.3" x2="343.2" y2="314.3" stroke="#1c6db0" stroke-width="1"/>
<rect x="313.6" y="335.7" width="12" height="17.6" fill="#0b69b3"/>
<text x="316.2" y="349.5" textLength="6.7" lengthAdjust="spacingAndGlyphs" fill="#fff" stroke="#fff" stroke-width=".3" style="font-size:14px">D</text>
<text x="350.7" y="330.1" textLength="22.6" lengthAdjust="spacingAndGlyphs" style="font-size:13.5px;" fill="#f2f2f5" stroke="#f2f2f5" stroke-width="2.4" stroke-linejoin="round">CTR</text>
<text x="350.7" y="330.1" textLength="22.6" lengthAdjust="spacingAndGlyphs" style="font-size:13.5px;" fill="#1c6db0" stroke="#1c6db0" stroke-width="0.38">CTR</text>
<text x="335.6" y="343.1" textLength="57.9" lengthAdjust="spacingAndGlyphs" style="font-size:13.5px;" fill="#f2f2f5" stroke="#f2f2f5" stroke-width="2.4" stroke-linejoin="round">PONTOISE</text>
<text x="335.6" y="343.1" textLength="57.9" lengthAdjust="spacingAndGlyphs" style="font-size:13.5px;" fill="#1c6db0" stroke="#1c6db0" stroke-width="0.38">PONTOISE</text>
<rect x="338.6" y="344.7" width="11.8" height="17.6" fill="#0b69b3"/>
<text x="341.2" y="358.5" textLength="6.6" lengthAdjust="spacingAndGlyphs" fill="#fff" stroke="#fff" stroke-width=".3" style="font-size:14px">D</text>
<text x="354.3" y="355.8" textLength="21.1" lengthAdjust="spacingAndGlyphs" style="font-size:12.5px;font-style:italic;" fill="#f2f2f5" stroke="#f2f2f5" stroke-width="2.4" stroke-linejoin="round">1500</text>
<text x="354.3" y="355.8" textLength="21.1" lengthAdjust="spacingAndGlyphs" style="font-size:12.5px;font-style:italic;" fill="#1c6db0" stroke="#1c6db0" stroke-width="0.3">1500</text>
<line x1="353.3" y1="358.4" x2="374.4" y2="358.4" stroke="#1c6db0" stroke-width="1"/>
<text x="499.2" y="327.1" textLength="42.2" lengthAdjust="spacingAndGlyphs" style="font-size:13.5px;" fill="#d72d56" stroke="#d72d56" stroke-width="0.38">TMA 2*</text>
<rect x="503" y="331.1" width="12.7" height="17.6" fill="#e0123b"/>
<text x="505.3" y="344.9" textLength="8" lengthAdjust="spacingAndGlyphs" fill="#fff" stroke="#fff" stroke-width=".3" style="font-size:14px">A</text>
<text x="518.8" y="340.7" textLength="22" lengthAdjust="spacingAndGlyphs" style="font-size:12.5px;font-style:italic;" fill="#d72d56" stroke="#d72d56" stroke-width="0.3">2500</text>
<text x="517.8" y="354.9" textLength="22" lengthAdjust="spacingAndGlyphs" style="font-size:12.5px;font-style:italic;" fill="#d72d56" stroke="#d72d56" stroke-width="0.3">1500</text>
<line x1="519.3" y1="343.3" x2="539.3" y2="343.3" stroke="#d72d56" stroke-width="1"/>
<text x="559" y="334.7" textLength="42.3" lengthAdjust="spacingAndGlyphs" style="font-size:13.5px;" fill="#d72d56" stroke="#d72d56" stroke-width="0.38">TMA 3*</text>
<rect x="557" y="344.2" width="12.6" height="18.2" fill="#e0123b"/>
<text x="559.3" y="358.3" textLength="8" lengthAdjust="spacingAndGlyphs" fill="#fff" stroke="#fff" stroke-width=".3" style="font-size:14px">A</text>
<text x="575" y="349.8" textLength="21.2" lengthAdjust="spacingAndGlyphs" style="font-size:12.5px;font-style:italic;" fill="#d72d56" stroke="#d72d56" stroke-width="0.3">3500</text>
<text x="574" y="364.3" textLength="21.2" lengthAdjust="spacingAndGlyphs" style="font-size:12.5px;font-style:italic;" fill="#d72d56" stroke="#d72d56" stroke-width="0.3">2500</text>
<line x1="575.5" y1="352.1" x2="594.7" y2="352.1" stroke="#d72d56" stroke-width="1"/>
<text x="597" y="290" textLength="42" lengthAdjust="spacingAndGlyphs" style="font-size:13.5px;" fill="#d72d56" stroke="#d72d56" stroke-width="0.38">TMA 4*</text>
<rect x="591" y="299.5" width="12.7" height="17.6" fill="#e0123b"/>
<text x="593.3" y="313.3" textLength="8" lengthAdjust="spacingAndGlyphs" fill="#fff" stroke="#fff" stroke-width=".3" style="font-size:14px">A</text>
<text x="608.2" y="305.4" textLength="21.8" lengthAdjust="spacingAndGlyphs" style="font-size:12.5px;font-style:italic;" fill="#d72d56" stroke="#d72d56" stroke-width="0.3">4500</text>
<text x="607.2" y="320.2" textLength="21.8" lengthAdjust="spacingAndGlyphs" style="font-size:12.5px;font-style:italic;" fill="#d72d56" stroke="#d72d56" stroke-width="0.3">3500</text>
<line x1="608.7" y1="308" x2="628.5" y2="308" stroke="#d72d56" stroke-width="1"/>
<text x="463" y="365.4" textLength="28.6" lengthAdjust="spacingAndGlyphs" style="font-size:13.5px;" fill="#d72d56" stroke="#d72d56" stroke-width="0.38">R 275</text>
<text x="467.5" y="378.4" textLength="22.5" lengthAdjust="spacingAndGlyphs" style="font-size:12.5px;font-style:italic;" fill="#d72d56" stroke="#d72d56" stroke-width="0.3">2000</text>
<line x1="466.5" y1="381" x2="489" y2="381" stroke="#d72d56" stroke-width="1"/>
<text x="416.2" y="389.6" textLength="21.1" lengthAdjust="spacingAndGlyphs" style="font-size:13.5px;" fill="#d72d56" stroke="#d72d56" stroke-width="0.38">VFR</text>
<text x="384.5" y="402.6" textLength="84.5" lengthAdjust="spacingAndGlyphs" style="font-size:13.5px;" fill="#d72d56" stroke="#d72d56" stroke-width="0.38">contournement</text>
<text x="396.4" y="414.6" textLength="58.8" lengthAdjust="spacingAndGlyphs" style="font-size:13.5px;" fill="#d72d56" stroke="#d72d56" stroke-width="0.38">obligatoire</text>
<text x="337.1" y="402.3" textLength="29.3" lengthAdjust="spacingAndGlyphs" style="font-size:13.5px;" fill="#d72d56" stroke="#d72d56" stroke-width="0.38">R 324</text>
<text x="396.4" y="437.7" textLength="57.3" lengthAdjust="spacingAndGlyphs" style="font-size:13.5px;" fill="#f2f2f5" stroke="#f2f2f5" stroke-width="2.4" stroke-linejoin="round">CTRPARIS</text>
<text x="396.4" y="437.7" textLength="57.3" lengthAdjust="spacingAndGlyphs" style="font-size:13.5px;" fill="#1c6db0" stroke="#1c6db0" stroke-width="0.38">CTRPARIS</text>
<rect x="402.4" y="441.4" width="12.1" height="18.5" fill="#0b69b3"/>
<text x="405.1" y="455.7" textLength="6.8" lengthAdjust="spacingAndGlyphs" fill="#fff" stroke="#fff" stroke-width=".3" style="font-size:14px">D</text>
<text x="418.1" y="450.4" textLength="25.1" lengthAdjust="spacingAndGlyphs" style="font-size:12.5px;font-style:italic;" fill="#f2f2f5" stroke="#f2f2f5" stroke-width="2.4" stroke-linejoin="round">2000</text>
<text x="418.1" y="450.4" textLength="25.1" lengthAdjust="spacingAndGlyphs" style="font-size:12.5px;font-style:italic;" fill="#1c6db0" stroke="#1c6db0" stroke-width="0.3">2000</text>
<line x1="417.1" y1="453" x2="442.2" y2="453" stroke="#1c6db0" stroke-width="1"/>
<text x="406.3" y="488.7" textLength="29.3" lengthAdjust="spacingAndGlyphs" style="font-size:13.5px;" fill="#d72d56" stroke="#d72d56" stroke-width="0.38">R 275</text>
<text x="410" y="501.4" textLength="22" lengthAdjust="spacingAndGlyphs" style="font-size:12.5px;font-style:italic;" fill="#d72d56" stroke="#d72d56" stroke-width="0.3">2000</text>
<line x1="409" y1="504" x2="431" y2="504" stroke="#d72d56" stroke-width="1"/>
<text x="197.3" y="408.8" textLength="138.7" lengthAdjust="spacingAndGlyphs" style="font-size:11.3px;" fill="#231f20" stroke="#231f20" stroke-width="0.38">RMZ CHAVENAY VILLEPREUX</text>
<text x="274.2" y="424.5" textLength="21.8" lengthAdjust="spacingAndGlyphs" style="font-size:11.5px;font-style:italic;" fill="#231f20" stroke="#231f20" stroke-width="0.3">2500</text>
<line x1="273.2" y1="427.1" x2="295" y2="427.1" stroke="#231f20" stroke-width="1"/>
<text x="545.8" y="377.6" textLength="60.9" lengthAdjust="spacingAndGlyphs" style="font-size:11.3px;" fill="#231f20" stroke="#231f20" stroke-width="0.38">RMZ MEAUX</text>
<text x="566" y="390.5" textLength="21" lengthAdjust="spacingAndGlyphs" style="font-size:11.5px;font-style:italic;" fill="#231f20" stroke="#231f20" stroke-width="0.3">1500</text>
<line x1="565" y1="393.1" x2="586" y2="393.1" stroke="#231f20" stroke-width="1"/>
<text x="561.5" y="407.7" textLength="28.5" lengthAdjust="spacingAndGlyphs" style="font-size:13.5px;" fill="#d72d56" stroke="#d72d56" stroke-width="0.38">R 324</text>
<text x="508.5" y="425" textLength="62.9" lengthAdjust="spacingAndGlyphs" style="font-size:11.3px;" fill="#231f20" stroke="#231f20" stroke-width="0.38">RMZ LOGNES</text>
<text x="529.2" y="440.8" textLength="21.1" lengthAdjust="spacingAndGlyphs" style="font-size:11.5px;font-style:italic;" fill="#231f20" stroke="#231f20" stroke-width="0.3">1500</text>
<line x1="528.2" y1="443.4" x2="549.3" y2="443.4" stroke="#231f20" stroke-width="1"/>
<text x="522" y="482" textLength="59" lengthAdjust="spacingAndGlyphs" style="font-size:11.3px;" fill="#231f20" stroke="#231f20" stroke-width="0.38">RMZ MELUN</text>
<text x="541.2" y="497.1" textLength="22.7" lengthAdjust="spacingAndGlyphs" style="font-size:11.5px;font-style:italic;" fill="#231f20" stroke="#231f20" stroke-width="0.3">2500</text>
<line x1="540.2" y1="499.7" x2="562.9" y2="499.7" stroke="#231f20" stroke-width="1"/>
<text x="469.4" y="509.2" textLength="68.8" lengthAdjust="spacingAndGlyphs" style="font-size:14.3px;" fill="#eceef2" stroke="#eceef2" stroke-width="2.4" stroke-linejoin="round">CTR MELUN</text>
<text x="469.4" y="509.2" textLength="68.8" lengthAdjust="spacingAndGlyphs" style="font-size:14.3px;" fill="#1c6db0" stroke="#1c6db0" stroke-width="0.38">CTR MELUN</text>
<rect x="480" y="516.2" width="12" height="16.7" fill="#0b69b3"/>
<text x="482.6" y="529.6" textLength="6.7" lengthAdjust="spacingAndGlyphs" fill="#fff" stroke="#fff" stroke-width=".3" style="font-size:14px">D</text>
<text x="496" y="522.8" textLength="22.6" lengthAdjust="spacingAndGlyphs" style="font-size:12.5px;font-style:italic;" fill="#eceef2" stroke="#eceef2" stroke-width="2.4" stroke-linejoin="round">2500</text>
<text x="496" y="522.8" textLength="22.6" lengthAdjust="spacingAndGlyphs" style="font-size:12.5px;font-style:italic;" fill="#1c6db0" stroke="#1c6db0" stroke-width="0.3">2500</text>
<line x1="495" y1="525.4" x2="517.6" y2="525.4" stroke="#1c6db0" stroke-width="1"/>
<text x="253.1" y="449.6" textLength="41.7" lengthAdjust="spacingAndGlyphs" style="font-size:13.5px;" fill="#d72d56" stroke="#d72d56" stroke-width="0.38">TMA 4*</text>
<rect x="246.5" y="460.5" width="12.7" height="18.3" fill="#e0123b"/>
<text x="248.8" y="474.7" textLength="8" lengthAdjust="spacingAndGlyphs" fill="#fff" stroke="#fff" stroke-width=".3" style="font-size:14px">A</text>
<text x="265.2" y="466.2" textLength="21.1" lengthAdjust="spacingAndGlyphs" style="font-size:12.5px;font-style:italic;" fill="#d72d56" stroke="#d72d56" stroke-width="0.3">4500</text>
<text x="264.2" y="481.3" textLength="21.1" lengthAdjust="spacingAndGlyphs" style="font-size:12.5px;font-style:italic;" fill="#d72d56" stroke="#d72d56" stroke-width="0.3">3500</text>
<line x1="265.7" y1="468.8" x2="284.8" y2="468.8" stroke="#d72d56" stroke-width="1"/>
<text x="303.8" y="466.2" textLength="41.2" lengthAdjust="spacingAndGlyphs" style="font-size:13.5px;" fill="#d72d56" stroke="#d72d56" stroke-width="0.38">TMA 10</text>
<rect x="302.3" y="476.3" width="12.7" height="18.2" fill="#e0123b"/>
<text x="304.6" y="490.4" textLength="8" lengthAdjust="spacingAndGlyphs" fill="#fff" stroke="#fff" stroke-width=".3" style="font-size:14px">A</text>
<text x="320" y="481.3" textLength="22" lengthAdjust="spacingAndGlyphs" style="font-size:12.5px;font-style:italic;" fill="#d72d56" stroke="#d72d56" stroke-width="0.3">2500</text>
<text x="319" y="495.8" textLength="22" lengthAdjust="spacingAndGlyphs" style="font-size:12.5px;font-style:italic;" fill="#d72d56" stroke="#d72d56" stroke-width="0.3">2000</text>
<line x1="320.5" y1="484" x2="340.5" y2="484" stroke="#d72d56" stroke-width="1"/>
<text x="342" y="522.8" textLength="42.3" lengthAdjust="spacingAndGlyphs" style="font-size:13.5px;" fill="#d72d56" stroke="#d72d56" stroke-width="0.38">TMA 3*</text>
<rect x="340" y="531.9" width="12.6" height="18.5" fill="#e0123b"/>
<text x="342.3" y="546.2" textLength="8" lengthAdjust="spacingAndGlyphs" fill="#fff" stroke="#fff" stroke-width=".3" style="font-size:14px">A</text>
<text x="356.6" y="537.9" textLength="22.6" lengthAdjust="spacingAndGlyphs" style="font-size:12.5px;font-style:italic;" fill="#d72d56" stroke="#d72d56" stroke-width="0.3">3500</text>
<text x="355.6" y="553" textLength="22.6" lengthAdjust="spacingAndGlyphs" style="font-size:12.5px;font-style:italic;" fill="#d72d56" stroke="#d72d56" stroke-width="0.3">2500</text>
<line x1="357.1" y1="540.3" x2="377.7" y2="540.3" stroke="#d72d56" stroke-width="1"/>
<text x="200.3" y="547.7" textLength="42.3" lengthAdjust="spacingAndGlyphs" style="font-size:13.5px;" fill="#d72d56" stroke="#d72d56" stroke-width="0.38">TMA 7*</text>
<rect x="190.4" y="556.7" width="12.9" height="18.1" fill="#e0123b"/>
<text x="192.8" y="570.8" textLength="8.2" lengthAdjust="spacingAndGlyphs" fill="#fff" stroke="#fff" stroke-width=".3" style="font-size:14px">A</text>
<text x="208.8" y="561.9" textLength="27.7" lengthAdjust="spacingAndGlyphs" style="font-size:12.5px;font-style:italic;" fill="#d72d56" stroke="#d72d56" stroke-width="0.3">FL085</text>
<text x="207.8" y="577.9" textLength="27.7" lengthAdjust="spacingAndGlyphs" style="font-size:12.5px;font-style:italic;" fill="#d72d56" stroke="#d72d56" stroke-width="0.3">FL065</text>
<line x1="209.3" y1="564.9" x2="235" y2="564.9" stroke="#d72d56" stroke-width="1"/>
<text x="255.5" y="562.2" textLength="43.8" lengthAdjust="spacingAndGlyphs" style="font-size:13.5px;" fill="#fff" stroke="#fff" stroke-width="2.4" stroke-linejoin="round">TMA 4.1</text>
<text x="255.5" y="562.2" textLength="43.8" lengthAdjust="spacingAndGlyphs" style="font-size:13.5px;" fill="#1c6db0" stroke="#1c6db0" stroke-width="0.38">TMA 4.1</text>
<rect x="254.6" y="571.8" width="13" height="18.1" fill="#0b69b3"/>
<text x="258" y="585.9" textLength="6.2" lengthAdjust="spacingAndGlyphs" fill="#fff" stroke="#fff" stroke-width=".3" style="font-size:14px">E</text>
<text x="276.7" y="577" textLength="21.7" lengthAdjust="spacingAndGlyphs" style="font-size:12.5px;font-style:italic;" fill="#fff" stroke="#fff" stroke-width="2.4" stroke-linejoin="round">4500</text>
<text x="276.7" y="577" textLength="21.7" lengthAdjust="spacingAndGlyphs" style="font-size:12.5px;font-style:italic;" fill="#1c6db0" stroke="#1c6db0" stroke-width="0.3">4500</text>
<text x="275.7" y="593" textLength="21.7" lengthAdjust="spacingAndGlyphs" style="font-size:12.5px;font-style:italic;" fill="#fff" stroke="#fff" stroke-width="2.4" stroke-linejoin="round">3500</text>
<text x="275.7" y="593" textLength="21.7" lengthAdjust="spacingAndGlyphs" style="font-size:12.5px;font-style:italic;" fill="#1c6db0" stroke="#1c6db0" stroke-width="0.3">3500</text>
<line x1="277.2" y1="580" x2="296.9" y2="580" stroke="#1c6db0" stroke-width="1"/>
<text x="204.5" y="608.5" textLength="44.1" lengthAdjust="spacingAndGlyphs" style="font-size:13.5px;" fill="#1c6db0" stroke="#1c6db0" stroke-width="0.38">TMA 5.1</text>
<rect x="203.3" y="618.7" width="12.7" height="18.5" fill="#0b69b3"/>
<text x="206.6" y="633" textLength="6.1" lengthAdjust="spacingAndGlyphs" fill="#fff" stroke="#fff" stroke-width=".3" style="font-size:14px">E</text>
<text x="223.5" y="624.7" textLength="27.2" lengthAdjust="spacingAndGlyphs" style="font-size:12.5px;font-style:italic;" fill="#fff" stroke="#fff" stroke-width="2.4" stroke-linejoin="round">FL065</text>
<text x="223.5" y="624.7" textLength="27.2" lengthAdjust="spacingAndGlyphs" style="font-size:12.5px;font-style:italic;" fill="#1c6db0" stroke="#1c6db0" stroke-width="0.3">FL065</text>
<text x="226.5" y="640.4" textLength="21.1" lengthAdjust="spacingAndGlyphs" style="font-size:12.5px;font-style:italic;" fill="#fff" stroke="#fff" stroke-width="2.4" stroke-linejoin="round">4500</text>
<text x="226.5" y="640.4" textLength="21.1" lengthAdjust="spacingAndGlyphs" style="font-size:12.5px;font-style:italic;" fill="#1c6db0" stroke="#1c6db0" stroke-width="0.3">4500</text>
<line x1="224" y1="627.4" x2="249.2" y2="627.4" stroke="#1c6db0" stroke-width="1"/>
<text x="111.9" y="649.4" textLength="44.3" lengthAdjust="spacingAndGlyphs" style="font-size:13.5px;" fill="#1c6db0" stroke="#1c6db0" stroke-width="0.38">TMA 7.2</text>
<rect x="109.4" y="662.1" width="11.8" height="17.4" fill="#fff" stroke="#0b69b3" stroke-width="1.2"/>
<text x="111.7" y="675.8" textLength="7.3" lengthAdjust="spacingAndGlyphs" fill="#0b69b3" stroke="#0b69b3" stroke-width=".3" style="font-size:14px">D</text>
<text x="128.5" y="667.5" textLength="27.1" lengthAdjust="spacingAndGlyphs" style="font-size:12.5px;font-style:italic;" fill="#1c6db0" stroke="#1c6db0" stroke-width="0.3">FL085</text>
<text x="127.5" y="683.5" textLength="27.1" lengthAdjust="spacingAndGlyphs" style="font-size:12.5px;font-style:italic;" fill="#1c6db0" stroke="#1c6db0" stroke-width="0.3">FL065</text>
<line x1="129" y1="670.2" x2="154.1" y2="670.2" stroke="#1c6db0" stroke-width="1"/>
<text x="187.9" y="673.5" textLength="41.6" lengthAdjust="spacingAndGlyphs" style="font-size:13.5px;" fill="#d72d56" stroke="#d72d56" stroke-width="0.38">TMA 9*</text>
<rect x="182.8" y="682.6" width="12.6" height="18.1" fill="#e0123b"/>
<text x="185.1" y="696.7" textLength="8" lengthAdjust="spacingAndGlyphs" fill="#fff" stroke="#fff" stroke-width=".3" style="font-size:14px">A</text>
<text x="200" y="688.6" textLength="28" lengthAdjust="spacingAndGlyphs" style="font-size:12.5px;font-style:italic;" fill="#d72d56" stroke="#d72d56" stroke-width="0.3">FL115</text>
<text x="199" y="703.7" textLength="28" lengthAdjust="spacingAndGlyphs" style="font-size:12.5px;font-style:italic;" fill="#d72d56" stroke="#d72d56" stroke-width="0.3">FL085</text>
<line x1="200.5" y1="691.6" x2="226.5" y2="691.6" stroke="#d72d56" stroke-width="1"/>
<text x="119.7" y="347.5" textLength="34.3" lengthAdjust="spacingAndGlyphs" style="font-size:13.5px;" fill="#fff" stroke="#fff" stroke-width="2.4" stroke-linejoin="round">TMA 1</text>
<text x="119.7" y="347.5" textLength="34.3" lengthAdjust="spacingAndGlyphs" style="font-size:13.5px;" fill="#1c6db0" stroke="#1c6db0" stroke-width="0.38">TMA 1</text>
<text x="114.3" y="362.6" textLength="45.3" lengthAdjust="spacingAndGlyphs" style="font-size:13.5px;" fill="#fff" stroke="#fff" stroke-width="2.4" stroke-linejoin="round">EVREUX</text>
<text x="114.3" y="362.6" textLength="45.3" lengthAdjust="spacingAndGlyphs" style="font-size:13.5px;" fill="#1c6db0" stroke="#1c6db0" stroke-width="0.38">EVREUX</text>
<rect x="130" y="368.1" width="12" height="17.6" fill="#0b69b3"/>
<text x="132.6" y="381.9" textLength="6.7" lengthAdjust="spacingAndGlyphs" fill="#fff" stroke="#fff" stroke-width=".3" style="font-size:14px">D</text>
<text x="122.8" y="401.8" textLength="27.2" lengthAdjust="spacingAndGlyphs" style="font-size:12.5px;font-style:italic;" fill="#fff" stroke="#fff" stroke-width="2.4" stroke-linejoin="round">FL065</text>
<text x="122.8" y="401.8" textLength="27.2" lengthAdjust="spacingAndGlyphs" style="font-size:12.5px;font-style:italic;" fill="#1c6db0" stroke="#1c6db0" stroke-width="0.3">FL065</text>
<text x="125.8" y="415.4" textLength="21.7" lengthAdjust="spacingAndGlyphs" style="font-size:12.5px;font-style:italic;" fill="#fff" stroke="#fff" stroke-width="2.4" stroke-linejoin="round">1500</text>
<text x="125.8" y="415.4" textLength="21.7" lengthAdjust="spacingAndGlyphs" style="font-size:12.5px;font-style:italic;" fill="#1c6db0" stroke="#1c6db0" stroke-width="0.3">1500</text>
<line x1="123.3" y1="404.4" x2="148.5" y2="404.4" stroke="#1c6db0" stroke-width="1"/>
<text x="184.3" y="352" textLength="22.7" lengthAdjust="spacingAndGlyphs" style="font-size:13.5px;" fill="#1c6db0" stroke="#1c6db0" stroke-width="0.38">CTR</text>
<text x="174.7" y="366.2" textLength="44.6" lengthAdjust="spacingAndGlyphs" style="font-size:13.5px;" fill="#1c6db0" stroke="#1c6db0" stroke-width="0.38">EVREUX</text>
<rect x="165.6" y="371.1" width="12.1" height="18.2" fill="#0b69b3"/>
<text x="168.3" y="385.2" textLength="6.8" lengthAdjust="spacingAndGlyphs" fill="#fff" stroke="#fff" stroke-width=".3" style="font-size:14px">D</text>
<text x="182.2" y="383.7" textLength="22" lengthAdjust="spacingAndGlyphs" style="font-size:12.5px;font-style:italic;" fill="#1c6db0" stroke="#1c6db0" stroke-width="0.3">1500</text>
<line x1="181.2" y1="386.3" x2="203.2" y2="386.3" stroke="#1c6db0" stroke-width="1"/>
<text x="447.9" y="565.5" textLength="61.1" lengthAdjust="spacingAndGlyphs" style="font-size:11.7px;" fill="#1c6db0" stroke="#1c6db0" stroke-width="0.38">TMA 6 SEINE</text>
<rect x="455.8" y="576.6" width="9.9" height="13.6" fill="#0b69b3"/>
<text x="458.4" y="587.5" textLength="4.8" lengthAdjust="spacingAndGlyphs" fill="#fff" stroke="#fff" stroke-width=".3" style="font-size:11.5px">E</text>
<text x="471.8" y="578" textLength="20.2" lengthAdjust="spacingAndGlyphs" style="font-size:11.5px;font-style:italic;" fill="#fff" stroke="#fff" stroke-width="2.4" stroke-linejoin="round">3500</text>
<text x="471.8" y="578" textLength="20.2" lengthAdjust="spacingAndGlyphs" style="font-size:11.5px;font-style:italic;" fill="#1c6db0" stroke="#1c6db0" stroke-width="0.3">3500</text>
<text x="470.8" y="593.2" textLength="20.2" lengthAdjust="spacingAndGlyphs" style="font-size:11.5px;font-style:italic;" fill="#fff" stroke="#fff" stroke-width="2.4" stroke-linejoin="round">1500</text>
<text x="470.8" y="593.2" textLength="20.2" lengthAdjust="spacingAndGlyphs" style="font-size:11.5px;font-style:italic;" fill="#1c6db0" stroke="#1c6db0" stroke-width="0.3">1500</text>
<line x1="472.3" y1="581.7" x2="490.5" y2="581.7" stroke="#1c6db0" stroke-width="1"/>
<text x="404.5" y="658" textLength="73" lengthAdjust="spacingAndGlyphs" style="font-size:13.5px;" fill="#1c6db0" stroke="#1c6db0" stroke-width="0.38">TMA 1 PARIS</text>
<rect x="489" y="630.5" width="12" height="18" fill="#0b69b3"/>
<text x="491.6" y="644.5" textLength="6.7" lengthAdjust="spacingAndGlyphs" fill="#fff" stroke="#fff" stroke-width=".3" style="font-size:14px">D</text>
<text x="507.7" y="637" textLength="28.1" lengthAdjust="spacingAndGlyphs" style="font-size:12.5px;font-style:italic;" fill="#1c6db0" stroke="#1c6db0" stroke-width="0.3">FL195</text>
<text x="506.7" y="652" textLength="28.1" lengthAdjust="spacingAndGlyphs" style="font-size:12.5px;font-style:italic;" fill="#1c6db0" stroke="#1c6db0" stroke-width="0.3">FL115</text>
<line x1="508.2" y1="640" x2="534.3" y2="640" stroke="#1c6db0" stroke-width="1"/>
<rect x="489" y="663" width="12" height="18.2" fill="#0b69b3"/>
<text x="492.1" y="677.1" textLength="5.8" lengthAdjust="spacingAndGlyphs" fill="#fff" stroke="#fff" stroke-width=".3" style="font-size:14px">E</text>
<text x="507.7" y="667.7" textLength="28.1" lengthAdjust="spacingAndGlyphs" style="font-size:12.5px;font-style:italic;" fill="#1c6db0" stroke="#1c6db0" stroke-width="0.3">FL115</text>
<text x="510.7" y="683.7" textLength="22.6" lengthAdjust="spacingAndGlyphs" style="font-size:12.5px;font-style:italic;" fill="#1c6db0" stroke="#1c6db0" stroke-width="0.3">3500</text>
<line x1="508.2" y1="670.7" x2="534.3" y2="670.7" stroke="#1c6db0" stroke-width="1"/>
<text x="636.9" y="480.9" textLength="43.8" lengthAdjust="spacingAndGlyphs" style="font-size:13.5px;" fill="#fff" stroke="#fff" stroke-width="2.4" stroke-linejoin="round">TMA 4.1</text>
<text x="636.9" y="480.9" textLength="43.8" lengthAdjust="spacingAndGlyphs" style="font-size:13.5px;" fill="#1c6db0" stroke="#1c6db0" stroke-width="0.38">TMA 4.1</text>
<rect x="636" y="491.9" width="13" height="18.1" fill="#0b69b3"/>
<text x="639.4" y="506" textLength="6.2" lengthAdjust="spacingAndGlyphs" fill="#fff" stroke="#fff" stroke-width=".3" style="font-size:14px">E</text>
<text x="658" y="497.9" textLength="22.7" lengthAdjust="spacingAndGlyphs" style="font-size:12.5px;font-style:italic;" fill="#fff" stroke="#fff" stroke-width="2.4" stroke-linejoin="round">4500</text>
<text x="658" y="497.9" textLength="22.7" lengthAdjust="spacingAndGlyphs" style="font-size:12.5px;font-style:italic;" fill="#1c6db0" stroke="#1c6db0" stroke-width="0.3">4500</text>
<text x="657" y="513.9" textLength="22.7" lengthAdjust="spacingAndGlyphs" style="font-size:12.5px;font-style:italic;" fill="#fff" stroke="#fff" stroke-width="2.4" stroke-linejoin="round">3500</text>
<text x="657" y="513.9" textLength="22.7" lengthAdjust="spacingAndGlyphs" style="font-size:12.5px;font-style:italic;" fill="#1c6db0" stroke="#1c6db0" stroke-width="0.3">3500</text>
<line x1="658.5" y1="501" x2="679.2" y2="501" stroke="#1c6db0" stroke-width="1"/>
<text x="549.4" y="519.9" textLength="61.3" lengthAdjust="spacingAndGlyphs" style="font-size:11.7px;" fill="#fff" stroke="#fff" stroke-width="2.4" stroke-linejoin="round">TMA 5 SEINE</text>
<text x="549.4" y="519.9" textLength="61.3" lengthAdjust="spacingAndGlyphs" style="font-size:11.7px;" fill="#1c6db0" stroke="#1c6db0" stroke-width="0.38">TMA 5 SEINE</text>
<rect x="559.3" y="530.8" width="10.7" height="14.7" fill="#0b69b3"/>
<text x="561.7" y="542.3" textLength="6" lengthAdjust="spacingAndGlyphs" fill="#fff" stroke="#fff" stroke-width=".3" style="font-size:11.5px">D</text>
<text x="575.4" y="533.4" textLength="20.6" lengthAdjust="spacingAndGlyphs" style="font-size:11.5px;font-style:italic;" fill="#fff" stroke="#fff" stroke-width="2.4" stroke-linejoin="round">3500</text>
<text x="575.4" y="533.4" textLength="20.6" lengthAdjust="spacingAndGlyphs" style="font-size:11.5px;font-style:italic;" fill="#1c6db0" stroke="#1c6db0" stroke-width="0.3">3500</text>
<text x="574.4" y="548.8" textLength="20.6" lengthAdjust="spacingAndGlyphs" style="font-size:11.5px;font-style:italic;" fill="#fff" stroke="#fff" stroke-width="2.4" stroke-linejoin="round">1500</text>
<text x="574.4" y="548.8" textLength="20.6" lengthAdjust="spacingAndGlyphs" style="font-size:11.5px;font-style:italic;" fill="#1c6db0" stroke="#1c6db0" stroke-width="0.3">1500</text>
<line x1="575.9" y1="537.7" x2="594.5" y2="537.7" stroke="#1c6db0" stroke-width="1"/>
<text x="601.6" y="560.7" textLength="44.4" lengthAdjust="spacingAndGlyphs" style="font-size:13.5px;" fill="#fff" stroke="#fff" stroke-width="2.4" stroke-linejoin="round">TMA 5.1</text>
<text x="601.6" y="560.7" textLength="44.4" lengthAdjust="spacingAndGlyphs" style="font-size:13.5px;" fill="#1c6db0" stroke="#1c6db0" stroke-width="0.38">TMA 5.1</text>
<rect x="601.6" y="571.9" width="13.4" height="18.1" fill="#0b69b3"/>
<text x="605.1" y="586" textLength="6.4" lengthAdjust="spacingAndGlyphs" fill="#fff" stroke="#fff" stroke-width=".3" style="font-size:14px">E</text>
<text x="621.3" y="577.3" textLength="27.1" lengthAdjust="spacingAndGlyphs" style="font-size:12.5px;font-style:italic;" fill="#fff" stroke="#fff" stroke-width="2.4" stroke-linejoin="round">FL065</text>
<text x="621.3" y="577.3" textLength="27.1" lengthAdjust="spacingAndGlyphs" style="font-size:12.5px;font-style:italic;" fill="#1c6db0" stroke="#1c6db0" stroke-width="0.3">FL065</text>
<text x="623.4" y="593.3" textLength="21.1" lengthAdjust="spacingAndGlyphs" style="font-size:12.5px;font-style:italic;" fill="#fff" stroke="#fff" stroke-width="2.4" stroke-linejoin="round">4500</text>
<text x="623.4" y="593.3" textLength="21.1" lengthAdjust="spacingAndGlyphs" style="font-size:12.5px;font-style:italic;" fill="#1c6db0" stroke="#1c6db0" stroke-width="0.3">4500</text>
<line x1="621.8" y1="580.3" x2="646.9" y2="580.3" stroke="#1c6db0" stroke-width="1"/>
<text x="660.5" y="582.7" textLength="61.5" lengthAdjust="spacingAndGlyphs" style="font-size:11.7px;" fill="#fff" stroke="#fff" stroke-width="2.4" stroke-linejoin="round">TMA 1 SEINE</text>
<text x="660.5" y="582.7" textLength="61.5" lengthAdjust="spacingAndGlyphs" style="font-size:11.7px;" fill="#1c6db0" stroke="#1c6db0" stroke-width="0.38">TMA 1 SEINE</text>
<rect x="671" y="593.9" width="10.6" height="14.5" fill="#0b69b3"/>
<text x="673.8" y="605.3" textLength="5.1" lengthAdjust="spacingAndGlyphs" fill="#fff" stroke="#fff" stroke-width=".3" style="font-size:11.5px">E</text>
<text x="686.7" y="596.9" textLength="21.2" lengthAdjust="spacingAndGlyphs" style="font-size:11.5px;font-style:italic;" fill="#fff" stroke="#fff" stroke-width="2.4" stroke-linejoin="round">3500</text>
<text x="686.7" y="596.9" textLength="21.2" lengthAdjust="spacingAndGlyphs" style="font-size:11.5px;font-style:italic;" fill="#1c6db0" stroke="#1c6db0" stroke-width="0.3">3500</text>
<text x="685.7" y="612.6" textLength="21.2" lengthAdjust="spacingAndGlyphs" style="font-size:11.5px;font-style:italic;" fill="#fff" stroke="#fff" stroke-width="2.4" stroke-linejoin="round">2500</text>
<text x="685.7" y="612.6" textLength="21.2" lengthAdjust="spacingAndGlyphs" style="font-size:11.5px;font-style:italic;" fill="#1c6db0" stroke="#1c6db0" stroke-width="0.3">2500</text>
<line x1="687.2" y1="600.8" x2="706.4" y2="600.8" stroke="#1c6db0" stroke-width="1"/>
<text x="696.5" y="627" textLength="44" lengthAdjust="spacingAndGlyphs" style="font-size:13.5px;" fill="#fff" stroke="#fff" stroke-width="2.4" stroke-linejoin="round">TMA 7.1</text>
<text x="696.5" y="627" textLength="44" lengthAdjust="spacingAndGlyphs" style="font-size:13.5px;" fill="#1c6db0" stroke="#1c6db0" stroke-width="0.38">TMA 7.1</text>
<rect x="693.2" y="636.6" width="11.5" height="17.5" fill="#fff" stroke="#0b69b3" stroke-width="1.2"/>
<text x="695.4" y="650.4" textLength="7.1" lengthAdjust="spacingAndGlyphs" fill="#0b69b3" stroke="#0b69b3" stroke-width=".3" style="font-size:14px">D</text>
<text x="711.3" y="641.3" textLength="27.6" lengthAdjust="spacingAndGlyphs" style="font-size:12.5px;font-style:italic;" fill="#fff" stroke="#fff" stroke-width="2.4" stroke-linejoin="round">FL085</text>
<text x="711.3" y="641.3" textLength="27.6" lengthAdjust="spacingAndGlyphs" style="font-size:12.5px;font-style:italic;" fill="#1c6db0" stroke="#1c6db0" stroke-width="0.3">FL085</text>
<text x="710.3" y="657.9" textLength="27.6" lengthAdjust="spacingAndGlyphs" style="font-size:12.5px;font-style:italic;" fill="#fff" stroke="#fff" stroke-width="2.4" stroke-linejoin="round">FL065</text>
<text x="710.3" y="657.9" textLength="27.6" lengthAdjust="spacingAndGlyphs" style="font-size:12.5px;font-style:italic;" fill="#1c6db0" stroke="#1c6db0" stroke-width="0.3">FL065</text>
<line x1="711.8" y1="644.8" x2="737.4" y2="644.8" stroke="#1c6db0" stroke-width="1"/>
<text x="768.2" y="597.8" textLength="61.3" lengthAdjust="spacingAndGlyphs" style="font-size:11.7px;" fill="#fff" stroke="#fff" stroke-width="2.4" stroke-linejoin="round">TMA 2 SEINE</text>
<text x="768.2" y="597.8" textLength="61.3" lengthAdjust="spacingAndGlyphs" style="font-size:11.7px;" fill="#1c6db0" stroke="#1c6db0" stroke-width="0.38">TMA 2 SEINE</text>
<rect x="778.8" y="609" width="9.9" height="14.2" fill="#0b69b3"/>
<text x="781.4" y="620.2" textLength="4.8" lengthAdjust="spacingAndGlyphs" fill="#fff" stroke="#fff" stroke-width=".3" style="font-size:11.5px">E</text>
<text x="794.8" y="611.4" textLength="26.2" lengthAdjust="spacingAndGlyphs" style="font-size:11.5px;font-style:italic;" fill="#1c6db0" stroke="#1c6db0" stroke-width="0.3">FL065</text>
<text x="798.4" y="626.2" textLength="20.5" lengthAdjust="spacingAndGlyphs" style="font-size:11.5px;font-style:italic;" fill="#1c6db0" stroke="#1c6db0" stroke-width="0.3">2000</text>
<line x1="795.3" y1="615" x2="819.5" y2="615" stroke="#1c6db0" stroke-width="1"/>
<text x="608.8" y="661.4" textLength="42.5" lengthAdjust="spacingAndGlyphs" style="font-size:13.5px;" fill="#fff" stroke="#fff" stroke-width="2.4" stroke-linejoin="round">TMA 9*</text>
<text x="608.8" y="661.4" textLength="42.5" lengthAdjust="spacingAndGlyphs" style="font-size:13.5px;" fill="#d72d56" stroke="#d72d56" stroke-width="0.38">TMA 9*</text>
<rect x="604.2" y="670.6" width="12.8" height="19.1" fill="#e0123b"/>
<text x="606.6" y="685.2" textLength="8.1" lengthAdjust="spacingAndGlyphs" fill="#fff" stroke="#fff" stroke-width=".3" style="font-size:14px">A</text>
<text x="621.9" y="677.7" textLength="28.3" lengthAdjust="spacingAndGlyphs" style="font-size:12.5px;font-style:italic;" fill="#fff" stroke="#fff" stroke-width="2.4" stroke-linejoin="round">FL115</text>
<text x="621.9" y="677.7" textLength="28.3" lengthAdjust="spacingAndGlyphs" style="font-size:12.5px;font-style:italic;" fill="#d72d56" stroke="#d72d56" stroke-width="0.3">FL115</text>
<text x="620.9" y="691.8" textLength="28.3" lengthAdjust="spacingAndGlyphs" style="font-size:12.5px;font-style:italic;" fill="#fff" stroke="#fff" stroke-width="2.4" stroke-linejoin="round">FL085</text>
<text x="620.9" y="691.8" textLength="28.3" lengthAdjust="spacingAndGlyphs" style="font-size:12.5px;font-style:italic;" fill="#d72d56" stroke="#d72d56" stroke-width="0.3">FL085</text>
<line x1="622.4" y1="681.2" x2="648.7" y2="681.2" stroke="#d72d56" stroke-width="1"/>
<text y="763.8" fill="#d72d56" stroke="#d72d56" stroke-width="0.2" style="font-size:15.5px;"><tspan x="73" textLength="85.7" lengthAdjust="spacingAndGlyphs">* TMA PARIS</tspan> <tspan x="162.7" textLength="79.7" lengthAdjust="spacingAndGlyphs">2, 3, 4, 5, 7, 9</tspan> <tspan x="247.6" textLength="58.6" lengthAdjust="spacingAndGlyphs">doublées</tspan> <tspan x="313" textLength="102.9" lengthAdjust="spacingAndGlyphs">par les LF-R 205</tspan> <tspan x="419.9" textLength="78.9" lengthAdjust="spacingAndGlyphs">2, 3, 4, 5, 7, 9</tspan> <tspan x="503.6" textLength="112" lengthAdjust="spacingAndGlyphs">voir conditions de</tspan> <tspan x="621.6" textLength="73.4" lengthAdjust="spacingAndGlyphs">pénétration</tspan> <tspan x="701.3" textLength="98.5" lengthAdjust="spacingAndGlyphs">en partie texte.</tspan></text>
<rect x="147.6" y="857.7" width="48" height="34" fill="#bbd5ef"/>
<polygon points="75.8,892.3 176,892.3 176,957.6 75.8,957.6" fill="#93bce5" stroke="#347fc4" stroke-width="1.5" stroke-linejoin="round" stroke-linejoin="miter"/>
<polygon points="79.4,895.9 172.4,895.9 172.4,954 79.4,954" fill="#bbd5ef" stroke="none" stroke-width="0" stroke-linejoin="round" />
<polygon points="176,892.3 246.9,892.3 246.9,928.3 261.6,928.3 261.6,1012 176,1012" fill="#93bce5" stroke="#347fc4" stroke-width="1.5" stroke-linejoin="round" stroke-linejoin="miter"/>
<polygon points="179.6,895.9 243.3,895.9 243.3,931.9 258,931.9 258,1008.4 179.6,1008.4" fill="#bbd5ef" stroke="none" stroke-width="0" stroke-linejoin="round" />
<polygon points="261.6,928.3 278.6,928.3 278.6,957.6 261.6,957.6" fill="#93bce5" stroke="#347fc4" stroke-width="1.5" stroke-linejoin="round" stroke-linejoin="miter"/>
<polygon points="265.2,931.9 275,931.9 275,954 265.2,954" fill="#bbd5ef" stroke="none" stroke-width="0" stroke-linejoin="round" />
<polygon points="92.4,957.6 131,957.6 131,997 92.4,997" fill="#93bce5" stroke="#347fc4" stroke-width="1.5" stroke-linejoin="round" stroke-linejoin="miter"/>
<polygon points="96,961.2 127.4,961.2 127.4,993.4 96,993.4" fill="#bbd5ef" stroke="none" stroke-width="0" stroke-linejoin="round" />
<polygon points="131,957.6 175.8,957.6 175.8,997 131,997" fill="#93bce5" stroke="#347fc4" stroke-width="1.5" stroke-linejoin="round" stroke-linejoin="miter"/>
<polygon points="134.6,961.2 172.2,961.2 172.2,993.4 134.6,993.4" fill="#bbd5ef" stroke="none" stroke-width="0" stroke-linejoin="round" />
<polygon points="143.1,997 175.8,997 175.8,1059.3 143.1,1059.3" fill="#93bce5" stroke="#347fc4" stroke-width="1.5" stroke-linejoin="round" stroke-linejoin="miter"/>
<polygon points="146.7,1000.6 172.2,1000.6 172.2,1055.7 146.7,1055.7" fill="#bbd5ef" stroke="none" stroke-width="0" stroke-linejoin="round" />
<polygon points="746.7,857.7 788.9,857.7 788.9,891.7 746.7,891.7" fill="#93bce5" stroke="#347fc4" stroke-width="1.5" stroke-linejoin="round" stroke-linejoin="miter"/>
<polygon points="750.3,861.3 785.3,861.3 785.3,888.1 750.3,888.1" fill="#bbd5ef" stroke="none" stroke-width="0" stroke-linejoin="round" />
<polygon points="629.9,892.3 746.7,892.3 746.7,928.3 629.9,928.3" fill="#93bce5" stroke="#347fc4" stroke-width="1.5" stroke-linejoin="round" stroke-linejoin="miter"/>
<polygon points="633.5,895.9 743.1,895.9 743.1,924.7 633.5,924.7" fill="#bbd5ef" stroke="none" stroke-width="0" stroke-linejoin="round" />
<polygon points="586.8,928.3 609.4,928.3 609.4,957.6 586.8,957.6" fill="#93bce5" stroke="#347fc4" stroke-width="1.5" stroke-linejoin="round" stroke-linejoin="miter"/>
<polygon points="590.4,931.9 605.8,931.9 605.8,954 590.4,954" fill="#bbd5ef" stroke="none" stroke-width="0" stroke-linejoin="round" />
<polygon points="609.4,928.3 746.7,928.3 746.7,957.6 609.4,957.6" fill="#93bce5" stroke="#347fc4" stroke-width="1.5" stroke-linejoin="round" stroke-linejoin="miter"/>
<polygon points="613,931.9 743.1,931.9 743.1,954 613,954" fill="#bbd5ef" stroke="none" stroke-width="0" stroke-linejoin="round" />
<polygon points="746.7,892.3 872.8,892.3 872.8,1000.9 721.3,1000.9 721.3,957.6 746.7,957.6" fill="#93bce5" stroke="#347fc4" stroke-width="1.5" stroke-linejoin="round" stroke-linejoin="miter"/>
<polygon points="750.3,895.9 869.2,895.9 869.2,997.3 724.9,997.3 724.9,961.2 750.3,961.2" fill="#bbd5ef" stroke="none" stroke-width="0" stroke-linejoin="round" />
<polygon points="700.8,957.6 721.3,957.6 721.3,986.1 700.8,986.1" fill="#93bce5" stroke="#347fc4" stroke-width="1.5" stroke-linejoin="round" stroke-linejoin="miter"/>
<polygon points="704.4,961.2 717.7,961.2 717.7,982.5 704.4,982.5" fill="#bbd5ef" stroke="none" stroke-width="0" stroke-linejoin="round" />
<polygon points="138.6,812.5 788.9,812.5 788.9,857.7 138.6,857.7" fill="#f8b5a3" stroke="#e64a57" stroke-width="1.5" stroke-linejoin="round" stroke-linejoin="miter"/>
<polygon points="143.2,817.1 784.3,817.1 784.3,853.1 143.2,853.1" fill="#fde5d9" stroke="none" stroke-width="0" stroke-linejoin="round" />
<polygon points="195.6,857.7 746.7,857.7 746.7,891.7 195.6,891.7" fill="#f8b5a3" stroke="#e64a57" stroke-width="1.5" stroke-linejoin="round" stroke-linejoin="miter"/>
<polygon points="200.2,862.3 742.1,862.3 742.1,887.1 200.2,887.1" fill="#fde5d9" stroke="none" stroke-width="0" stroke-linejoin="round" />
<polygon points="246.9,891.7 629.9,891.7 629.9,928.3 246.9,928.3" fill="#f8b5a3" stroke="#e64a57" stroke-width="1.5" stroke-linejoin="round" stroke-linejoin="miter"/>
<polygon points="251.5,896.3 625.3,896.3 625.3,923.7 251.5,923.7" fill="#fde5d9" stroke="none" stroke-width="0" stroke-linejoin="round" />
<polygon points="278.6,928.3 586.8,928.3 586.8,957.6 278.6,957.6" fill="#f8b5a3" stroke="#e64a57" stroke-width="1.5" stroke-linejoin="round" stroke-linejoin="miter"/>
<polygon points="283.2,932.9 582.2,932.9 582.2,953 283.2,953" fill="#fde5d9" stroke="none" stroke-width="0" stroke-linejoin="round" />
<polygon points="307.2,957.6 558.8,957.6 558.8,986.1 307.2,986.1" fill="#f8b5a3" stroke="#e64a57" stroke-width="1.5" stroke-linejoin="round" stroke-linejoin="miter"/>
<polygon points="311.8,962.2 554.2,962.2 554.2,981.5 311.8,981.5" fill="#fde5d9" stroke="none" stroke-width="0" stroke-linejoin="round" />
<polygon points="362,986.1 534,986.1 534,1012.2 362,1012.2" fill="#f8b5a3" stroke="#e64a57" stroke-width="1.5" stroke-linejoin="round" stroke-linejoin="miter"/>
<polygon points="366.6,990.7 529.4,990.7 529.4,1007.6 366.6,1007.6" fill="#fde5d9" stroke="none" stroke-width="0" stroke-linejoin="round" />
<rect x="534" y="986.1" width="25" height="73.2" fill="#e9e9ed" stroke="#e64a57" stroke-width="1.2"/>
<rect x="472.5" y="1012.2" width="61.5" height="47.1" fill="#e9e9ed"/>
<rect x="307.2" y="1012.2" width="22.6" height="47.1" fill="#eeebf0" stroke="#e64a57" stroke-width="1.2"/>
<rect x="362" y="1012.2" width="16" height="47.1" fill="#eeebf0" stroke="#e64a57" stroke-width="1.2"/>
<line x1="472.5" y1="1058.5" x2="559" y2="1058.5" stroke="#e64a57" stroke-width="1.5"/>
<polygon points="307.2,986.1 362,986.1 362,1012.2 307.2,1012.2" fill="#93bce5" stroke="#347fc4" stroke-width="1.5" stroke-linejoin="round" stroke-linejoin="miter"/>
<polygon points="310.8,989.7 358.4,989.7 358.4,1008.6 310.8,1008.6" fill="#bbd5ef" stroke="none" stroke-width="0" stroke-linejoin="round" />
<polygon points="329.8,1012.2 362,1012.2 362,1059.3 329.8,1059.3" fill="#93bce5" stroke="#347fc4" stroke-width="1.5" stroke-linejoin="round" stroke-linejoin="miter"/>
<polygon points="333.4,1015.8 358.4,1015.8 358.4,1055.7 333.4,1055.7" fill="#bbd5ef" stroke="none" stroke-width="0" stroke-linejoin="round" />
<rect x="379" y="1001.2" width="93.5" height="58.1" fill="#93bce5" stroke="#1f6fc0" stroke-width="2.3"/>
<rect x="383" y="1005.2" width="85.5" height="50.8" fill="url(#hatch)"/>
<line x1="147.6" y1="857.7" x2="721" y2="857.7" stroke="#3b78b8" stroke-width="1.2" stroke-dasharray="5 4"/>
<line x1="147.6" y1="857.7" x2="147.6" y2="957.6" stroke="#3b78b8" stroke-width="1.2" stroke-dasharray="5 4"/>
<line x1="176" y1="957.6" x2="261.6" y2="957.6" stroke="#3b78b8" stroke-width="1.2" stroke-dasharray="5 4"/>
<line x1="721" y1="857.7" x2="721" y2="957.6" stroke="#3b78b8" stroke-width="1.2" stroke-dasharray="5 4"/>
<line x1="746.7" y1="928.3" x2="880.3" y2="928.3" stroke="#231f20" stroke-width="1.1" stroke-dasharray="6 4"/>
<line x1="746.7" y1="957.6" x2="880.3" y2="957.6" stroke="#231f20" stroke-width="1.1" stroke-dasharray="6 4"/>
<line x1="559" y1="986.1" x2="880.3" y2="986.1" stroke="#231f20" stroke-width="1.1" stroke-dasharray="6 4"/>
<line x1="473" y1="1000.9" x2="880.3" y2="1000.9" stroke="#231f20" stroke-width="1.1" stroke-dasharray="6 4"/>
<line x1="534" y1="1012.2" x2="880.3" y2="1012.2" stroke="#231f20" stroke-width="1.1" stroke-dasharray="6 4"/>
<line x1="473" y1="1012.2" x2="534" y2="1012.2" stroke="#231f20" stroke-width="1.1"/>
<line x1="474" y1="977.6" x2="474" y2="1012.2" stroke="#231f20" stroke-width="1.1"/>
<line x1="477" y1="977.6" x2="519.7" y2="977.6" stroke="#231f20" stroke-width="1.1" stroke-dasharray="6 4"/>
<line x1="519.7" y1="978.5" x2="519.7" y2="1009.5" stroke="#231f20" stroke-width="1.1"/>
<line x1="480" y1="1013" x2="480" y2="1058" stroke="#231f20" stroke-width="1.1" stroke-dasharray="14 4"/>
<line x1="505.5" y1="1017" x2="505.5" y2="1055.5" stroke="#231f20" stroke-width="1.1"/>
<line x1="516.2" y1="1013" x2="516.2" y2="1058" stroke="#231f20" stroke-width="1.1" stroke-dasharray="6 3"/>
<line x1="519.3" y1="1013" x2="519.3" y2="1058" stroke="#231f20" stroke-width="1.1"/>
<line x1="540.2" y1="1018.6" x2="540.2" y2="1055" stroke="#231f20" stroke-width="1.1" stroke-dasharray="22 4"/>
<line x1="473" y1="1012" x2="473" y2="1058" stroke="#231f20" stroke-width="1.1" stroke-dasharray="8 4"/>
<line x1="335.8" y1="981" x2="335.8" y2="1058" stroke="#231f20" stroke-width="1.1"/>
<line x1="339" y1="977.6" x2="358.1" y2="977.6" stroke="#231f20" stroke-width="1.1"/>
<line x1="358.1" y1="977.6" x2="358.1" y2="1058" stroke="#231f20" stroke-width="1.1" stroke-dasharray="7 3"/>
<line x1="64.7" y1="1059.6" x2="880.3" y2="1059.6" stroke="#231f20" stroke-width="2.1"/>
<text x="45.6" y="1065" textLength="13.6" lengthAdjust="spacingAndGlyphs" style="font-size:23px;" fill="#231f20" stroke="#231f20" stroke-width="0.38">A</text>
<text x="887.9" y="1065" textLength="18.1" lengthAdjust="spacingAndGlyphs" style="font-size:23px;" fill="#231f20" stroke="#231f20" stroke-width="0.38">A'</text>
<text x="31.2" y="818.2" textLength="31" lengthAdjust="spacingAndGlyphs" style="font-size:12.5px;font-style:italic;" fill="#231f20" stroke="#231f20" stroke-width="0.3">FL115</text>
<text x="882.5" y="818.2" textLength="31" lengthAdjust="spacingAndGlyphs" style="font-size:12.5px;font-style:italic;" fill="#231f20" stroke="#231f20" stroke-width="0.3">FL115</text>
<text x="31.2" y="863" textLength="31" lengthAdjust="spacingAndGlyphs" style="font-size:12.5px;font-style:italic;" fill="#231f20" stroke="#231f20" stroke-width="0.3">FL085</text>
<text x="882.5" y="863" textLength="31" lengthAdjust="spacingAndGlyphs" style="font-size:12.5px;font-style:italic;" fill="#231f20" stroke="#231f20" stroke-width="0.3">FL085</text>
<text x="31.2" y="897.6" textLength="31" lengthAdjust="spacingAndGlyphs" style="font-size:12.5px;font-style:italic;" fill="#231f20" stroke="#231f20" stroke-width="0.3">FL065</text>
<text x="882.5" y="897.6" textLength="31" lengthAdjust="spacingAndGlyphs" style="font-size:12.5px;font-style:italic;" fill="#231f20" stroke="#231f20" stroke-width="0.3">FL065</text>
<text x="34.5" y="934" textLength="24.7" lengthAdjust="spacingAndGlyphs" style="font-size:12.5px;font-style:italic;" fill="#231f20" stroke="#231f20" stroke-width="0.3">4500</text>
<text x="885.5" y="934" textLength="24.5" lengthAdjust="spacingAndGlyphs" style="font-size:12.5px;font-style:italic;" fill="#231f20" stroke="#231f20" stroke-width="0.3">4500</text>
<text x="34.5" y="961.6" textLength="24.7" lengthAdjust="spacingAndGlyphs" style="font-size:12.5px;font-style:italic;" fill="#231f20" stroke="#231f20" stroke-width="0.3">3500</text>
<text x="885.5" y="961.6" textLength="24.5" lengthAdjust="spacingAndGlyphs" style="font-size:12.5px;font-style:italic;" fill="#231f20" stroke="#231f20" stroke-width="0.3">3500</text>
<text x="34.5" y="989.4" textLength="24.7" lengthAdjust="spacingAndGlyphs" style="font-size:12.5px;font-style:italic;" fill="#231f20" stroke="#231f20" stroke-width="0.3">2500</text>
<text x="885.5" y="989.4" textLength="24.5" lengthAdjust="spacingAndGlyphs" style="font-size:12.5px;font-style:italic;" fill="#231f20" stroke="#231f20" stroke-width="0.3">2500</text>
<text x="34.5" y="1002.4" textLength="24.7" lengthAdjust="spacingAndGlyphs" style="font-size:12.5px;font-style:italic;" fill="#231f20" stroke="#231f20" stroke-width="0.3">2000</text>
<text x="885.5" y="1002.4" textLength="24.5" lengthAdjust="spacingAndGlyphs" style="font-size:12.5px;font-style:italic;" fill="#231f20" stroke="#231f20" stroke-width="0.3">2000</text>
<text x="34.5" y="1015" textLength="24.7" lengthAdjust="spacingAndGlyphs" style="font-size:12.5px;font-style:italic;" fill="#231f20" stroke="#231f20" stroke-width="0.3">1500</text>
<text x="885.5" y="1015" textLength="24.5" lengthAdjust="spacingAndGlyphs" style="font-size:12.5px;font-style:italic;" fill="#231f20" stroke="#231f20" stroke-width="0.3">1500</text>
<text x="377.2" y="839.7" textLength="68.2" lengthAdjust="spacingAndGlyphs" style="font-size:13.6px;" fill="#d72d56" stroke="#d72d56" stroke-width="0.38">TMA 9 PARIS</text>
<rect x="456.5" y="826.2" width="13" height="18.2" fill="#e0123b"/>
<text x="458.9" y="840.3" textLength="8.2" lengthAdjust="spacingAndGlyphs" fill="#fff" stroke="#fff" stroke-width=".3" style="font-size:14px">A</text>
<text x="474.6" y="839.7" textLength="40.8" lengthAdjust="spacingAndGlyphs" style="font-size:13.6px;" fill="#d72d56" stroke="#d72d56" stroke-width="0.38">R 205/9*</text>
<text x="377.2" y="878.9" textLength="68.2" lengthAdjust="spacingAndGlyphs" style="font-size:13.6px;" fill="#d72d56" stroke="#d72d56" stroke-width="0.38">TMA 7 PARIS</text>
<rect x="456.5" y="866" width="13" height="17.9" fill="#e0123b"/>
<text x="458.9" y="880" textLength="8.2" lengthAdjust="spacingAndGlyphs" fill="#fff" stroke="#fff" stroke-width=".3" style="font-size:14px">A</text>
<text x="474.6" y="878.9" textLength="40.8" lengthAdjust="spacingAndGlyphs" style="font-size:13.6px;" fill="#d72d56" stroke="#d72d56" stroke-width="0.38">R 205/7*</text>
<text x="377.2" y="912" textLength="68.2" lengthAdjust="spacingAndGlyphs" style="font-size:13.6px;" fill="#d72d56" stroke="#d72d56" stroke-width="0.38">TMA 5 PARIS</text>
<rect x="456.5" y="898.6" width="13" height="18.5" fill="#e0123b"/>
<text x="458.9" y="912.9" textLength="8.2" lengthAdjust="spacingAndGlyphs" fill="#fff" stroke="#fff" stroke-width=".3" style="font-size:14px">A</text>
<text x="474.6" y="912" textLength="40.8" lengthAdjust="spacingAndGlyphs" style="font-size:13.6px;" fill="#d72d56" stroke="#d72d56" stroke-width="0.38">R 205/5*</text>
<text x="377.2" y="946.5" textLength="68.2" lengthAdjust="spacingAndGlyphs" style="font-size:13.6px;" fill="#d72d56" stroke="#d72d56" stroke-width="0.38">TMA 4 PARIS</text>
<rect x="456.5" y="933.3" width="13" height="18.5" fill="#e0123b"/>
<text x="458.9" y="947.6" textLength="8.2" lengthAdjust="spacingAndGlyphs" fill="#fff" stroke="#fff" stroke-width=".3" style="font-size:14px">A</text>
<text x="474.6" y="946.5" textLength="40.8" lengthAdjust="spacingAndGlyphs" style="font-size:13.6px;" fill="#d72d56" stroke="#d72d56" stroke-width="0.38">R 205/4*</text>
<text x="377.2" y="975.1" textLength="68.2" lengthAdjust="spacingAndGlyphs" style="font-size:13.6px;" fill="#d72d56" stroke="#d72d56" stroke-width="0.38">TMA 3 PARIS</text>
<rect x="456.5" y="963.1" width="13" height="18" fill="#e0123b"/>
<text x="458.9" y="977.1" textLength="8.2" lengthAdjust="spacingAndGlyphs" fill="#fff" stroke="#fff" stroke-width=".3" style="font-size:14px">A</text>
<text x="474.6" y="973.8" textLength="40.8" lengthAdjust="spacingAndGlyphs" style="font-size:13.6px;" fill="#d72d56" stroke="#d72d56" stroke-width="0.38">R 205/3*</text>
<text x="377.2" y="997.9" textLength="68.2" lengthAdjust="spacingAndGlyphs" style="font-size:13.6px;" fill="#d72d56" stroke="#d72d56" stroke-width="0.38">TMA 2 PARIS</text>
<rect x="456.5" y="987.3" width="13" height="13.7" fill="#e2452c"/>
<text x="459" y="1000.6" textLength="8.3" lengthAdjust="spacingAndGlyphs" style="font-size:13.5px;" fill="#fff" stroke="#fff" stroke-width="0.38">A</text>
<text x="477.6" y="997" textLength="40.8" lengthAdjust="spacingAndGlyphs" style="font-size:13.6px;" fill="#d72d56" stroke="#d72d56" stroke-width="0.38">R 205/2*</text>
<line x1="378" y1="1001.2" x2="473.5" y2="1001.2" stroke="#1f6fc0" stroke-width="2.3"/>
<text x="411.9" y="1023.5" textLength="26.5" lengthAdjust="spacingAndGlyphs" style="font-size:13.6px;" fill="#d72d56" stroke="#d72d56" stroke-width="0.38">R 275</text>
<rect x="389.2" y="1028.5" width="12.4" height="18.2" fill="#0b69b3"/>
<text x="391.9" y="1042.6" textLength="6.9" lengthAdjust="spacingAndGlyphs" fill="#fff" stroke="#fff" stroke-width=".3" style="font-size:14px">D</text>
<text x="404.6" y="1041.6" textLength="55.8" lengthAdjust="spacingAndGlyphs" style="font-size:13.6px;" fill="#1c6db0" stroke="#1c6db0" stroke-width="0.38">CTR PARIS</text>
<text x="109.9" y="913.3" textLength="32.3" lengthAdjust="spacingAndGlyphs" style="font-size:11.3px;" fill="#1c6db0" stroke="#1c6db0" stroke-width="0.38">TMA 16</text>
<text x="115" y="922.5" textLength="22" lengthAdjust="spacingAndGlyphs" style="font-size:11.3px;" fill="#1c6db0" stroke="#1c6db0" stroke-width="0.38">LILLE</text>
<rect x="120.5" y="927.3" width="10.2" height="17.6" fill="#0b69b3"/>
<text x="123.2" y="941.1" textLength="4.9" lengthAdjust="spacingAndGlyphs" fill="#fff" stroke="#fff" stroke-width=".3" style="font-size:14px">E</text>
<rect x="153.7" y="866.3" width="10.3" height="17.6" fill="#0b69b3"/>
<text x="156.4" y="880.1" textLength="4.9" lengthAdjust="spacingAndGlyphs" fill="#fff" stroke="#fff" stroke-width=".3" style="font-size:14px">E</text>
<text x="166.4" y="874" textLength="26.2" lengthAdjust="spacingAndGlyphs" style="font-size:11.3px;" fill="#1c6db0" stroke="#1c6db0" stroke-width="0.38">TMA 1</text>
<text x="166.4" y="883.4" textLength="26.2" lengthAdjust="spacingAndGlyphs" style="font-size:11.3px;" fill="#1c6db0" stroke="#1c6db0" stroke-width="0.38">PARIS</text>
<text x="207" y="942.9" textLength="24.2" lengthAdjust="spacingAndGlyphs" style="font-size:11.3px;" fill="#1c6db0" stroke="#1c6db0" stroke-width="0.38">TMA 1</text>
<text x="203.5" y="952.5" textLength="33.8" lengthAdjust="spacingAndGlyphs" style="font-size:11.3px;" fill="#1c6db0" stroke="#1c6db0" stroke-width="0.38">EVREUX</text>
<rect x="214" y="960.5" width="12" height="18.2" fill="#0b69b3"/>
<text x="216.6" y="974.6" textLength="6.7" lengthAdjust="spacingAndGlyphs" fill="#fff" stroke="#fff" stroke-width=".3" style="font-size:14px">D</text>
<rect x="265" y="931.8" width="10.9" height="17.6" fill="#0b69b3"/>
<text x="267.8" y="945.6" textLength="5.2" lengthAdjust="spacingAndGlyphs" fill="#fff" stroke="#fff" stroke-width=".3" style="font-size:14px">E</text>
<rect x="104.5" y="966.5" width="11.2" height="17.6" fill="#0b69b3"/>
<text x="107.4" y="980.3" textLength="5.4" lengthAdjust="spacingAndGlyphs" fill="#fff" stroke="#fff" stroke-width=".3" style="font-size:14px">E</text>
<rect x="145.2" y="965.9" width="11.2" height="18.2" fill="#0b69b3"/>
<text x="147.7" y="980" textLength="6.3" lengthAdjust="spacingAndGlyphs" fill="#fff" stroke="#fff" stroke-width=".3" style="font-size:14px">D</text>
<rect x="153.7" y="1018.5" width="12" height="18.2" fill="#0b69b3"/>
<text x="156.3" y="1032.6" textLength="6.7" lengthAdjust="spacingAndGlyphs" fill="#fff" stroke="#fff" stroke-width=".3" style="font-size:14px">D</text>
<line x1="270.5" y1="950.4" x2="275.9" y2="967" stroke="#1c6db0" stroke-width="1"/>
<text x="270.5" y="975.9" textLength="25.5" lengthAdjust="spacingAndGlyphs" style="font-size:11.3px;" fill="#1c6db0" stroke="#1c6db0" stroke-width="0.38">TMA 1</text>
<text x="270.5" y="985.5" textLength="25.5" lengthAdjust="spacingAndGlyphs" style="font-size:11.3px;" fill="#1c6db0" stroke="#1c6db0" stroke-width="0.38">PARIS</text>
<text x="66.8" y="1015.4" textLength="31.7" lengthAdjust="spacingAndGlyphs" style="font-size:11.3px;" fill="#1c6db0" stroke="#1c6db0" stroke-width="0.38">TMA 15</text>
<text x="71.3" y="1025" textLength="22" lengthAdjust="spacingAndGlyphs" style="font-size:11.3px;" fill="#1c6db0" stroke="#1c6db0" stroke-width="0.38">LILLE</text>
<text x="103" y="1014.5" textLength="31.7" lengthAdjust="spacingAndGlyphs" style="font-size:11.3px;" fill="#1c6db0" stroke="#1c6db0" stroke-width="0.38">TMA 14</text>
<text x="108" y="1024.1" textLength="22" lengthAdjust="spacingAndGlyphs" style="font-size:11.3px;" fill="#1c6db0" stroke="#1c6db0" stroke-width="0.38">LILLE</text>
<text x="109" y="1039.5" textLength="16.6" lengthAdjust="spacingAndGlyphs" style="font-size:11.3px;" fill="#1c6db0" stroke="#1c6db0" stroke-width="0.38">CTR</text>
<text x="101.5" y="1048.8" textLength="30.8" lengthAdjust="spacingAndGlyphs" style="font-size:11.3px;" fill="#1c6db0" stroke="#1c6db0" stroke-width="0.38">ROUEN</text>
<line x1="109" y1="991.3" x2="94" y2="1007.9" stroke="#1c6db0" stroke-width="1"/>
<line x1="145.2" y1="990.4" x2="137" y2="1009" stroke="#1c6db0" stroke-width="1"/>
<line x1="151.3" y1="1027.2" x2="134.7" y2="1041" stroke="#1c6db0" stroke-width="1"/>
<text x="268" y="1016.4" textLength="19" lengthAdjust="spacingAndGlyphs" style="font-size:11.3px;" fill="#1c6db0" stroke="#1c6db0" stroke-width="0.38">TMA</text>
<text x="250.8" y="1026" textLength="53.5" lengthAdjust="spacingAndGlyphs" style="font-size:11.3px;" fill="#1c6db0" stroke="#1c6db0" stroke-width="0.38">LE BOURGET</text>
<text x="266.8" y="1045" textLength="16.6" lengthAdjust="spacingAndGlyphs" style="font-size:11.3px;" fill="#1c6db0" stroke="#1c6db0" stroke-width="0.38">CTR</text>
<text x="252.4" y="1054.4" textLength="43.6" lengthAdjust="spacingAndGlyphs" style="font-size:11.3px;" fill="#1c6db0" stroke="#1c6db0" stroke-width="0.38">PONTOISE</text>
<rect x="316.8" y="991.4" width="11.5" height="17.6" fill="#0b69b3"/>
<text x="319.3" y="1005.2" textLength="6.4" lengthAdjust="spacingAndGlyphs" fill="#fff" stroke="#fff" stroke-width=".3" style="font-size:14px">D</text>
<rect x="338.8" y="1037.5" width="12.7" height="17.6" fill="#0b69b3"/>
<text x="341.6" y="1051.3" textLength="7.1" lengthAdjust="spacingAndGlyphs" fill="#fff" stroke="#fff" stroke-width=".3" style="font-size:14px">D</text>
<line x1="293" y1="1012.5" x2="317" y2="1001" stroke="#1c6db0" stroke-width="1"/>
<line x1="298" y1="1050.5" x2="339" y2="1049" stroke="#1c6db0" stroke-width="1"/>
<rect x="761.8" y="866.6" width="11.5" height="16.7" fill="#fff" stroke="#0b69b3" stroke-width="1.2"/>
<text x="764" y="880" textLength="7.1" lengthAdjust="spacingAndGlyphs" fill="#0b69b3" stroke="#0b69b3" stroke-width=".3" style="font-size:14px">D</text>
<line x1="779.9" y1="875" x2="793.5" y2="875" stroke="#1c6db0" stroke-width="1"/>
<text x="795.9" y="872" textLength="33.1" lengthAdjust="spacingAndGlyphs" style="font-size:11.3px;" fill="#1c6db0" stroke="#1c6db0" stroke-width="0.38">TMA 7.1</text>
<text x="799.8" y="881.6" textLength="25.6" lengthAdjust="spacingAndGlyphs" style="font-size:11.3px;" fill="#1c6db0" stroke="#1c6db0" stroke-width="0.38">PARIS</text>
<rect x="663" y="900.7" width="12" height="18.5" fill="#0b69b3"/>
<text x="666.1" y="915" textLength="5.8" lengthAdjust="spacingAndGlyphs" fill="#fff" stroke="#fff" stroke-width=".3" style="font-size:14px">E</text>
<text x="679.4" y="910.3" textLength="33.2" lengthAdjust="spacingAndGlyphs" style="font-size:11.3px;" fill="#1c6db0" stroke="#1c6db0" stroke-width="0.38">TMA 5.1</text>
<text x="683.3" y="919.5" textLength="25.7" lengthAdjust="spacingAndGlyphs" style="font-size:11.3px;" fill="#1c6db0" stroke="#1c6db0" stroke-width="0.38">PARIS</text>
<rect x="592" y="931.8" width="10.8" height="17.6" fill="#0b69b3"/>
<text x="594.8" y="945.6" textLength="5.2" lengthAdjust="spacingAndGlyphs" fill="#fff" stroke="#fff" stroke-width=".3" style="font-size:14px">E</text>
<rect x="653.2" y="935.5" width="10.5" height="17.5" fill="#0b69b3"/>
<text x="655.9" y="949.3" textLength="5" lengthAdjust="spacingAndGlyphs" fill="#fff" stroke="#fff" stroke-width=".3" style="font-size:14px">E</text>
<text x="668.2" y="942" textLength="33.2" lengthAdjust="spacingAndGlyphs" style="font-size:11.3px;" fill="#1c6db0" stroke="#1c6db0" stroke-width="0.38">TMA 4.1</text>
<text x="672.2" y="951.3" textLength="25.6" lengthAdjust="spacingAndGlyphs" style="font-size:11.3px;" fill="#1c6db0" stroke="#1c6db0" stroke-width="0.38">PARIS</text>
<line x1="597.3" y1="949.5" x2="595.2" y2="959.5" stroke="#1c6db0" stroke-width="1"/>
<text x="579.8" y="971.3" textLength="26.6" lengthAdjust="spacingAndGlyphs" style="font-size:11.3px;" fill="#1c6db0" stroke="#1c6db0" stroke-width="0.38">TMA 1</text>
<text x="579.8" y="981" textLength="26.6" lengthAdjust="spacingAndGlyphs" style="font-size:11.3px;" fill="#1c6db0" stroke="#1c6db0" stroke-width="0.38">PARIS</text>
<text x="660.7" y="969.7" textLength="26.6" lengthAdjust="spacingAndGlyphs" style="font-size:11.3px;" fill="#1c6db0" stroke="#1c6db0" stroke-width="0.38">TMA 1</text>
<text x="660.7" y="979.2" textLength="26.6" lengthAdjust="spacingAndGlyphs" style="font-size:11.3px;" fill="#1c6db0" stroke="#1c6db0" stroke-width="0.38">SEINE</text>
<line x1="689.4" y1="970" x2="703" y2="970.6" stroke="#1c6db0" stroke-width="1"/>
<rect x="705.4" y="962.9" width="10.6" height="17.6" fill="#0b69b3"/>
<text x="708.2" y="976.7" textLength="5.1" lengthAdjust="spacingAndGlyphs" fill="#fff" stroke="#fff" stroke-width=".3" style="font-size:14px">E</text>
<text x="798" y="913.3" textLength="26.5" lengthAdjust="spacingAndGlyphs" style="font-size:11.3px;" fill="#1c6db0" stroke="#1c6db0" stroke-width="0.38">TMA 2</text>
<text x="798" y="923.2" textLength="26.5" lengthAdjust="spacingAndGlyphs" style="font-size:11.3px;" fill="#1c6db0" stroke="#1c6db0" stroke-width="0.38">SEINE</text>
<rect x="806.4" y="931.8" width="10" height="17.6" fill="#0b69b3"/>
<text x="809" y="945.6" textLength="4.8" lengthAdjust="spacingAndGlyphs" fill="#fff" stroke="#fff" stroke-width=".3" style="font-size:14px">E</text>
<text transform="translate(313.2 1020.5) rotate(90)" x="0" y="0" textLength="28.7" lengthAdjust="spacingAndGlyphs" fill="#d72d56" style="font-size:12.5px">R 324</text>
<text transform="translate(365.3 1020.5) rotate(90)" x="0" y="0" textLength="28.7" lengthAdjust="spacingAndGlyphs" fill="#d72d56" style="font-size:12.5px">R 324</text>
<text transform="translate(546.1 1024.7) rotate(90)" x="0" y="0" textLength="25.8" lengthAdjust="spacingAndGlyphs" fill="#d72d56" style="font-size:12.5px">R 324</text>
<text transform="translate(349.2 997.9) rotate(90)" x="0" y="0" textLength="19.6" lengthAdjust="spacingAndGlyphs" fill="#231f20" style="font-size:11.4px">RMZ</text>
<text transform="translate(338.7 978.3) rotate(90)" x="0" y="0" textLength="58.8" lengthAdjust="spacingAndGlyphs" fill="#231f20" style="font-size:11.4px">CHAVENAY V.</text>
<text transform="translate(483.1 1017.8) rotate(90)" x="0" y="0" textLength="34.4" lengthAdjust="spacingAndGlyphs" fill="#231f20" style="font-size:11.4px">LOGNES</text>
<text transform="translate(492.9 1024.7) rotate(90)" x="0" y="0" textLength="19.8" lengthAdjust="spacingAndGlyphs" fill="#231f20" style="font-size:11.4px">RMZ</text>
<text transform="translate(505.9 1002.2) rotate(90)" x="0" y="0" textLength="53.5" lengthAdjust="spacingAndGlyphs" fill="#231f20" style="font-size:11.4px">RMZ MELUN</text>
<text transform="translate(518.8 1021.2) rotate(90)" x="0" y="0" textLength="32.8" lengthAdjust="spacingAndGlyphs" fill="#231f20" style="font-size:11.4px">MEAUX</text>
<text transform="translate(529.2 1028.1) rotate(90)" x="0" y="0" textLength="18.1" lengthAdjust="spacingAndGlyphs" fill="#231f20" style="font-size:11.4px">RMZ</text>
<rect x="10.6" y="1181.4" width="24.5" height="19.4" fill="#27408f"/>
<rect x="40" y="1181.4" width="24.8" height="19.4" fill="#e5322b"/>
<path d="M31,1181.3 L40.5,1181.3 C42.5,1182.5 44,1184.5 44,1187 C44.8,1188.6 46,1190 46.2,1191.2 C46,1192 45,1192 44.6,1192.4 C44.9,1193.2 44.8,1194 44.2,1194.4 C44.4,1195.4 44,1196.3 43,1196.6 C41.6,1196.8 40.5,1196.6 40,1197.6 C39.8,1198.6 40.4,1199.6 41,1200.6 L30,1200.6 C31.5,1199 33.5,1198.2 34.2,1196.5 C32.5,1196.8 30.5,1196 29.5,1194.6 C30.8,1194.8 32,1194.4 32.6,1193.6 C30.6,1193.6 28.6,1192.6 27.6,1191 C29.3,1191.4 31,1191 32,1190 C30,1189.6 28.2,1188.2 27.6,1186.4 C29.4,1187.2 31.2,1187 32.4,1186 C31,1185 30.4,1183 31,1181.3Z" fill="#fff"/>
<path d="M27.5,1192.8 l2.2,.5 M26.8,1195 l2.6,.2 M28.5,1197.2 l2.2,-.5" stroke="#fff" stroke-width=".9" fill="none"/>
<text x="10.3" y="1225.6" textLength="111.4" lengthAdjust="spacingAndGlyphs" style="font-size:20.1px;font-weight:bold;" fill="#161616" stroke="#161616" stroke-width="0.5">MINISTÈRE</text>
<text x="10.3" y="1246.9" textLength="88" lengthAdjust="spacingAndGlyphs" style="font-size:20.1px;font-weight:bold;" fill="#161616" stroke="#161616" stroke-width="0.5">CHARGÉ</text>
<text x="10.3" y="1268.2" textLength="185.7" lengthAdjust="spacingAndGlyphs" style="font-size:20.1px;font-weight:bold;" fill="#161616" stroke="#161616" stroke-width="0.5">DES TRANSPORTS</text>
<rect x="724.5" y="1210.8" width="55.7" height="55.6" fill="#264ea5"/>
<rect x="742" y="1266.3" width="57.8" height="6" fill="#1f9ad7"/>
<text x="728.3" y="1254.2" textLength="49.2" lengthAdjust="spacingAndGlyphs" style="font-size:27.6px;font-weight:bold;" fill="#fff">dgac</text>
<path d="M750.3,1219 C753.5,1217.2 757,1217.8 759.2,1220.3 C761.5,1216.5 765.5,1213 769.5,1211.3 C766.5,1214.2 764,1217.8 762.8,1221.8 C763.5,1226 767,1228.3 771.5,1226.8 C768.5,1231 762,1232.3 758,1228.2 C755.5,1225.5 755.5,1221.5 750.3,1219Z" fill="#fff"/>
<text x="785.5" y="1223" textLength="33.5" lengthAdjust="spacingAndGlyphs" style="font-size:9.3px;font-weight:bold;" fill="#2c4b9b">direction</text>
<text x="785.5" y="1234.6" textLength="33" lengthAdjust="spacingAndGlyphs" style="font-size:9.3px;font-weight:bold;" fill="#2c4b9b">générale</text>
<text x="785.5" y="1246.3" textLength="48.5" lengthAdjust="spacingAndGlyphs" style="font-size:9.3px;font-weight:bold;" fill="#2c4b9b">de l’Aviation</text>
<text x="785.5" y="1258" textLength="20" lengthAdjust="spacingAndGlyphs" style="font-size:9.3px;font-weight:bold;" fill="#2c4b9b">civile</text>
</svg>
</body></html>
